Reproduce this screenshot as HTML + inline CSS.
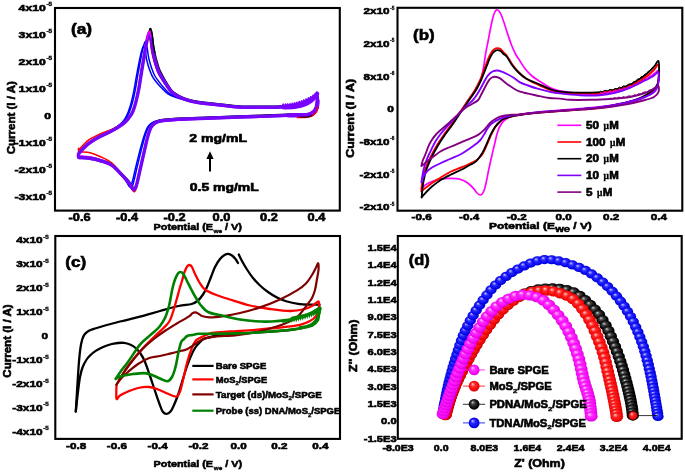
<!DOCTYPE html>
<html><head><meta charset="utf-8"><style>
html,body{margin:0;padding:0;background:#fff;}
body{width:685px;height:472px;overflow:hidden;}
svg{display:block;filter:blur(0.3px);font-family:"Liberation Sans",sans-serif;font-weight:bold;}
text{stroke:#000;}
</style></head><body>
<svg width="685" height="472" viewBox="0 0 685 472">
<defs>

<radialGradient id="gB" cx="0.5" cy="0.5" r="0.55" fx="0.35" fy="0.3"><stop offset="0" stop-color="#c8c8ff"/><stop offset="0.35" stop-color="#2a2aff"/><stop offset="0.85" stop-color="#0000e8"/><stop offset="1" stop-color="#00008a"/></radialGradient>
<radialGradient id="gM" cx="0.5" cy="0.5" r="0.55" fx="0.35" fy="0.3"><stop offset="0" stop-color="#ffd0ff"/><stop offset="0.35" stop-color="#ff30ff"/><stop offset="0.85" stop-color="#f000f0"/><stop offset="1" stop-color="#a000a0"/></radialGradient>
<radialGradient id="gR" cx="0.5" cy="0.5" r="0.55" fx="0.35" fy="0.3"><stop offset="0" stop-color="#ffd0d0"/><stop offset="0.35" stop-color="#ff2a2a"/><stop offset="0.85" stop-color="#f00000"/><stop offset="1" stop-color="#a00000"/></radialGradient>
<radialGradient id="gK" cx="0.5" cy="0.5" r="0.55" fx="0.35" fy="0.3"><stop offset="0" stop-color="#d0d0d0"/><stop offset="0.3" stop-color="#404040"/><stop offset="0.8" stop-color="#000"/><stop offset="1" stop-color="#000"/></radialGradient>

</defs>
<rect width="685" height="472" fill="#fff"/>
<path d="M78.6 153.8C79.5 152.8 82.27 149.55 84 147.8C85.73 146.05 86.57 145.07 89 143.3C91.43 141.53 94.83 139.33 98.57 137.19C102.32 135.05 107.69 132.8 111.46 130.48C115.23 128.16 118.84 125.39 121.19 123.27C123.54 121.14 124.38 119.65 125.56 117.75C126.74 115.85 127.35 114.38 128.29 111.88C129.22 109.38 130.28 106.16 131.19 102.75C132.1 99.34 132.88 95.84 133.75 91.43C134.62 87.03 135.53 81.06 136.39 76.32C137.26 71.58 138.17 66.9 138.96 62.98C139.75 59.07 140.5 55.42 141.14 52.8C141.78 50.18 142.36 48.31 142.8 47.29C143.25 46.27 143.38 46 143.8 46.66C144.22 47.32 144.86 49.16 145.32 51.24C145.78 53.33 146.09 56.8 146.56 59.16C147.03 61.52 147.52 63.35 148.14 65.42C148.77 67.5 149.48 69.56 150.3 71.6C151.12 73.65 151.99 75.91 153.06 77.71C154.12 79.51 155.25 80.69 156.69 82.41C158.13 84.13 159.82 86.12 161.7 88.03C163.58 89.94 165.66 92.33 167.97 93.87C170.27 95.4 172.39 96.14 175.51 97.23C178.63 98.32 183.15 99.61 186.69 100.42C190.23 101.24 193.4 101.67 196.76 102.12C200.11 102.58 202.96 102.77 206.82 103.17C210.69 103.56 214.61 103.95 219.97 104.51C225.33 105.07 232.33 106.12 239 106.5C245.67 106.88 253.17 106.8 260 106.8C266.83 106.8 274.17 106.78 280 106.5C285.83 106.22 290.83 105.83 295 105.1C299.17 104.37 302.17 103.23 305 102.1C307.83 100.97 310.08 99.68 312 98.3C313.92 96.92 315.57 93.47 316.5 93.8C317.43 94.13 317.48 98.05 317.6 100.3C317.72 102.55 317.8 105.25 317.2 107.3C316.6 109.35 315.53 111.35 314 112.6C312.47 113.85 310.67 114.52 308 114.8C305.33 115.08 302.67 114.25 298 114.3C293.33 114.35 286.33 114.83 280 115.1C273.67 115.37 266.83 115.67 260 115.9C253.17 116.13 247.83 116.2 239 116.5C230.17 116.8 217.18 117.32 207 117.7C196.82 118.08 185.06 118.45 177.94 118.8C170.82 119.14 167.7 119.45 164.27 119.78C160.84 120.1 159.42 120.21 157.36 120.74C155.29 121.27 153.48 121.91 151.89 122.96C150.29 124 149.1 124.89 147.81 127.01C146.51 129.14 145.26 132.49 144.14 135.7C143.01 138.91 142.12 142.44 141.06 146.28C140.01 150.13 138.79 154.92 137.81 158.76C136.83 162.6 135.96 166.13 135.2 169.34C134.44 172.55 133.85 175.57 133.25 178.05C132.65 180.52 132.1 182.76 131.6 184.2C131.09 185.65 130.68 186.47 130.2 186.72C129.72 186.98 129.48 186.8 128.7 185.72C127.93 184.63 126.98 182.22 125.56 180.21C124.13 178.2 122.49 176.2 120.16 173.64C117.83 171.08 114.92 167.07 111.56 164.87C108.19 162.67 103.56 161.56 99.96 160.46C96.37 159.37 92.99 158.78 90 158.3C87 157.82 83.9 157.77 82 157.6C80.1 157.43 79.17 157.93 78.6 157.3C78.03 156.67 78.6 154.38 78.6 153.8" fill="none" stroke="#0000ff" stroke-width="1.5" stroke-linejoin="round" stroke-linecap="round"/>
<path d="M78.6 153.7C79.5 152.7 82.27 149.45 84 147.7C85.73 145.95 86.57 144.97 89 143.2C91.43 141.43 94.82 139.22 98.58 137.09C102.34 134.96 107.72 132.71 111.57 130.4C115.42 128.09 119.22 125.34 121.69 123.22C124.16 121.1 125.08 119.61 126.38 117.68C127.69 115.75 128.49 114.24 129.52 111.64C130.55 109.03 131.62 105.64 132.58 102.04C133.54 98.44 134.35 94.73 135.25 90.05C136.16 85.37 137.1 79.02 137.99 73.96C138.88 68.91 139.81 63.9 140.62 59.71C141.42 55.52 142.18 51.62 142.83 48.83C143.48 46.03 144.06 44.04 144.5 42.94C144.95 41.85 145.08 41.57 145.5 42.27C145.92 42.97 146.56 44.94 147.02 47.16C147.48 49.38 147.78 53.07 148.25 55.6C148.71 58.12 149.19 60.07 149.81 62.29C150.42 64.52 151.12 66.73 151.92 68.93C152.72 71.13 153.58 73.56 154.61 75.51C155.65 77.46 156.74 78.76 158.13 80.63C159.52 82.51 161.15 84.68 162.95 86.75C164.76 88.82 166.76 91.39 168.97 93.05C171.18 94.71 173.21 95.54 176.22 96.72C179.23 97.91 183.59 99.29 187.04 100.17C190.48 101.04 193.59 101.49 196.9 101.97C200.21 102.45 203.02 102.64 206.87 103.05C210.72 103.46 214.62 103.85 219.98 104.41C225.33 104.97 232.33 106.02 239 106.4C245.67 106.78 253.17 106.7 260 106.7C266.83 106.7 274.17 106.68 280 106.4C285.83 106.12 290.83 105.73 295 105C299.17 104.27 302.17 103.13 305 102C307.83 100.87 310.08 99.58 312 98.2C313.92 96.82 315.57 93.37 316.5 93.7C317.43 94.03 317.48 97.95 317.6 100.2C317.72 102.45 317.8 105.15 317.2 107.2C316.6 109.25 315.53 111.25 314 112.5C312.47 113.75 310.67 114.42 308 114.7C305.33 114.98 302.67 114.15 298 114.2C293.33 114.25 286.33 114.73 280 115C273.67 115.27 266.83 115.57 260 115.8C253.17 116.03 247.83 116.1 239 116.4C230.17 116.7 217.17 117.22 207 117.6C196.83 117.98 185.05 118.35 177.96 118.7C170.86 119.05 167.82 119.36 164.45 119.69C161.08 120.01 159.74 120.13 157.75 120.66C155.76 121.2 154.04 121.86 152.51 122.92C150.99 123.98 149.85 124.88 148.62 127.04C147.39 129.19 146.19 132.6 145.11 135.86C144.03 139.12 143.17 142.71 142.15 146.62C141.13 150.53 139.94 155.41 138.98 159.32C138.03 163.23 137.16 166.81 136.4 170.08C135.64 173.35 135.05 176.4 134.44 178.91C133.83 181.42 133.27 183.68 132.75 185.13C132.23 186.58 131.81 187.41 131.3 187.64C130.8 187.88 130.55 187.69 129.73 186.55C128.91 185.41 127.91 182.91 126.38 180.8C124.86 178.68 123.06 176.53 120.6 173.87C118.15 171.21 115.1 167.09 111.66 164.84C108.22 162.59 103.58 161.47 99.97 160.37C96.36 159.26 92.99 158.68 90 158.2C87 157.72 83.9 157.67 82 157.5C80.1 157.33 79.17 157.83 78.6 157.2C78.03 156.57 78.6 154.28 78.6 153.7" fill="none" stroke="#0000ff" stroke-width="1.5" stroke-linejoin="round" stroke-linecap="round"/>
<path d="M78.6 152.7C79.5 151.7 82.27 148.45 84 146.7C85.73 144.95 86.57 143.95 89 142.2C91.43 140.45 94.78 138.28 98.6 136.2C102.42 134.12 107.78 131.95 111.9 129.7C116.02 127.45 120.45 124.78 123.3 122.7C126.15 120.62 127.35 119.2 129 117.2C130.65 115.2 131.9 113.62 133.19 110.7C134.49 107.78 135.65 103.87 136.75 99.7C137.86 95.53 138.79 91.2 139.8 85.7C140.82 80.2 141.87 72.7 142.85 66.7C143.83 60.7 144.82 54.7 145.68 49.7C146.54 44.7 147.32 40.03 147.99 36.7C148.66 33.37 149.25 31 149.7 29.7C150.15 28.4 150.28 28.07 150.7 28.9C151.12 29.73 151.75 32.07 152.2 34.7C152.65 37.33 152.94 41.7 153.39 44.7C153.84 47.7 154.3 50.03 154.88 52.7C155.46 55.37 156.12 58.03 156.86 60.7C157.6 63.37 158.39 66.3 159.33 68.7C160.26 71.1 161.25 72.77 162.48 75.1C163.71 77.43 165.13 80.15 166.7 82.7C168.28 85.25 170 88.35 171.92 90.4C173.85 92.45 175.57 93.53 178.25 95C180.94 96.47 184.84 98.15 188.01 99.2C191.19 100.25 194.14 100.75 197.3 101.3C200.47 101.85 203.22 102.07 207 102.5C210.78 102.93 214.67 103.33 220 103.9C225.33 104.47 232.33 105.52 239 105.9C245.67 106.28 253.17 106.2 260 106.2C266.83 106.2 274.17 106.18 280 105.9C285.83 105.62 290.83 105.23 295 104.5C299.17 103.77 302.17 102.63 305 101.5C307.83 100.37 310.08 99.08 312 97.7C313.92 96.32 315.57 92.87 316.5 93.2C317.43 93.53 317.48 97.45 317.6 99.7C317.72 101.95 317.8 104.65 317.2 106.7C316.6 108.75 315.53 110.75 314 112C312.47 113.25 310.67 113.92 308 114.2C305.33 114.48 302.67 113.65 298 113.7C293.33 113.75 286.33 114.23 280 114.5C273.67 114.77 266.83 115.07 260 115.3C253.17 115.53 247.83 115.6 239 115.9C230.17 116.2 217.17 116.72 207 117.1C196.83 117.48 185 117.85 178 118.2C171 118.55 168.17 118.87 165 119.2C161.83 119.53 160.75 119.65 159 120.2C157.25 120.75 155.8 121.42 154.5 122.5C153.2 123.58 152.25 124.5 151.2 126.7C150.15 128.9 149.13 132.37 148.2 135.7C147.27 139.03 146.52 142.7 145.6 146.7C144.68 150.7 143.6 155.7 142.7 159.7C141.8 163.7 140.95 167.37 140.2 170.7C139.45 174.03 138.83 177.15 138.2 179.7C137.57 182.25 136.97 184.53 136.4 186C135.83 187.47 135.37 188.28 134.8 188.5C134.23 188.72 133.97 188.52 133 187.3C132.03 186.08 130.83 183.47 129 181.2C127.17 178.93 124.83 176.53 122 173.7C119.17 170.87 115.67 166.57 112 164.2C108.33 161.83 103.67 160.67 100 159.5C96.33 158.33 93 157.7 90 157.2C87 156.7 83.9 156.67 82 156.5C80.1 156.33 79.17 156.83 78.6 156.2C78.03 155.57 78.6 153.28 78.6 152.7" fill="none" stroke="#000000" stroke-width="1.4" stroke-linejoin="round" stroke-linecap="round"/>
<path d="M78.6 152.3C79.5 151.3 82.27 148.05 84 146.3C85.73 144.55 86.57 143.51 89 141.8C91.43 140.09 94.79 138.01 98.6 136.01C102.4 134.02 107.77 131.99 111.83 129.85C115.89 127.7 120.19 125.14 122.96 123.13C125.73 121.12 126.84 119.74 128.45 117.78C130.06 115.81 131.35 114.22 132.61 111.35C133.87 108.48 134.95 104.62 135.99 100.54C137.04 96.45 137.92 92.22 138.89 86.85C139.86 81.48 140.86 74.18 141.8 68.34C142.75 62.51 143.71 56.69 144.54 51.84C145.38 46.98 146.15 42.46 146.81 39.22C147.47 35.99 148.05 33.69 148.5 32.42C148.95 31.16 149.08 30.83 149.5 31.64C149.92 32.45 150.55 34.72 151.01 37.28C151.46 39.84 151.76 44.1 152.22 47.01C152.67 49.93 153.15 52.19 153.74 54.77C154.33 57.36 155.01 59.94 155.78 62.51C156.55 65.09 157.37 67.93 158.35 70.24C159.32 72.55 160.36 74.14 161.65 76.38C162.94 78.63 164.44 81.24 166.09 83.71C167.75 86.17 169.56 89.19 171.56 91.19C173.56 93.18 175.35 94.23 178.09 95.67C180.83 97.11 184.78 98.77 187.98 99.81C191.18 100.85 194.13 101.35 197.3 101.9C200.47 102.45 203.22 102.67 207 103.1C210.78 103.53 214.67 103.93 220 104.5C225.33 105.07 232.33 106.12 239 106.5C245.67 106.88 253.17 106.8 260 106.8C266.83 106.8 274.17 106.78 280 106.5C285.83 106.22 290.83 105.83 295 105.1C299.17 104.37 302.17 103.23 305 102.1C307.83 100.97 310.08 99.68 312 98.3C313.92 96.92 315.57 93.47 316.5 93.8C317.43 94.13 317.48 98.05 317.6 100.3C317.72 102.55 317.8 105.25 317.2 107.3C316.6 109.35 315.53 111.35 314 112.6C312.47 113.85 310.67 114.52 308 114.8C305.33 115.08 302.67 114.25 298 114.3C293.33 114.35 286.33 114.83 280 115.1C273.67 115.37 266.83 115.67 260 115.9C253.17 116.13 247.83 116.2 239 116.5C230.17 116.8 217.17 117.32 207 117.7C196.83 118.08 185.01 118.45 177.99 118.8C170.97 119.15 168.09 119.47 164.88 119.8C161.67 120.13 160.54 120.25 158.74 120.8C156.94 121.35 155.43 122.02 154.08 123.1C152.74 124.18 151.75 125.1 150.66 127.3C149.57 129.5 148.51 132.97 147.55 136.3C146.59 139.63 145.81 143.3 144.87 147.3C143.94 151.3 142.83 156.3 141.92 160.3C141.01 164.3 140.15 167.97 139.4 171.3C138.65 174.63 138.04 177.75 137.41 180.3C136.78 182.85 136.19 185.13 135.63 186.6C135.07 188.07 134.62 188.88 134.06 189.1C133.51 189.32 133.25 189.12 132.31 187.9C131.38 186.68 130.22 184.08 128.45 181.78C126.68 179.47 124.46 177 121.71 174.1C118.95 171.2 115.55 166.81 111.93 164.35C108.31 161.89 103.65 160.61 99.99 159.35C96.34 158.09 93 157.34 90 156.8C87 156.26 83.9 156.27 82 156.1C80.1 155.93 79.17 156.43 78.6 155.8C78.03 155.17 78.6 152.88 78.6 152.3" fill="none" stroke="#ff00ff" stroke-width="1.4" stroke-linejoin="round" stroke-linecap="round"/>
<path d="M78.6 150.2C79.5 149.2 82.27 145.95 84 144.2C85.73 142.45 86.57 141.31 89 139.7C91.43 138.09 94.79 136.28 98.6 134.56C102.41 132.85 107.77 131.25 111.86 129.42C115.94 127.6 120.29 125.41 123.09 123.61C125.89 121.82 127.13 120.53 128.66 118.64C130.18 116.76 131.08 115.13 132.22 112.31C133.36 109.49 134.48 105.71 135.49 101.72C136.5 97.74 137.35 93.62 138.29 88.41C139.22 83.21 140.19 76.13 141.11 70.49C142.03 64.86 142.97 59.26 143.79 54.58C144.6 49.91 145.37 45.55 146.02 42.43C146.68 39.31 147.26 37.09 147.7 35.87C148.15 34.65 148.28 34.34 148.7 35.12C149.12 35.9 149.76 38.09 150.21 40.56C150.67 43.04 150.97 47.15 151.44 49.96C151.9 52.78 152.37 54.96 152.98 57.44C153.58 59.93 154.27 62.4 155.06 64.87C155.85 67.34 156.69 70.06 157.69 72.27C158.7 74.47 159.76 75.96 161.1 78.1C162.43 80.24 163.99 82.72 165.69 85.09C167.39 87.46 169.26 90.38 171.31 92.31C173.36 94.23 175.21 95.25 177.98 96.65C180.75 98.05 184.74 99.7 187.96 100.72C191.18 101.75 194.12 102.26 197.29 102.8C200.47 103.35 203.22 103.57 207 104C210.78 104.43 214.67 104.83 220 105.4C225.33 105.97 232.33 107.02 239 107.4C245.67 107.78 253.17 107.7 260 107.7C266.83 107.7 274.17 107.68 280 107.4C285.83 107.12 290.83 106.73 295 106C299.17 105.27 302.17 104.13 305 103C307.83 101.87 310.08 100.58 312 99.2C313.92 97.82 315.57 94.37 316.5 94.7C317.43 95.03 317.48 98.95 317.6 101.2C317.72 103.45 317.8 106.15 317.2 108.2C316.6 110.25 315.53 112.25 314 113.5C312.47 114.75 310.67 115.42 308 115.7C305.33 115.98 302.67 115.15 298 115.2C293.33 115.25 286.33 115.73 280 116C273.67 116.27 266.83 116.57 260 116.8C253.17 117.03 247.83 117.1 239 117.4C230.17 117.7 217.17 118.22 207 118.6C196.83 118.98 185.01 119.35 177.99 119.7C170.98 120.05 168.12 120.38 164.93 120.72C161.73 121.06 160.62 121.18 158.84 121.75C157.05 122.31 155.57 122.99 154.24 124.1C152.91 125.21 151.93 126.15 150.86 128.4C149.79 130.66 148.75 134.21 147.79 137.63C146.84 141.05 146.08 144.81 145.15 148.93C144.22 153.04 143.12 158.19 142.21 162.3C141.3 166.41 140.45 170.18 139.7 173.6C138.95 177.02 138.34 180.21 137.7 182.81C137.07 185.41 136.48 187.73 135.92 189.21C135.36 190.69 134.9 191.51 134.34 191.7C133.78 191.89 133.52 191.69 132.57 190.36C131.62 189.03 130.45 186.33 128.66 183.69C126.86 181.06 124.6 177.97 121.82 174.54C119.03 171.11 115.59 166.12 111.96 163.11C108.32 160.1 103.66 158.24 100 156.51C96.34 154.77 93 153.45 90 152.7C87 151.95 83.9 152.17 82 152C80.1 151.83 79.17 152.33 78.6 151.7C78.03 151.07 78.6 148.78 78.6 148.2" fill="none" stroke="#ff0000" stroke-width="1.5" stroke-linejoin="round" stroke-linecap="round"/>
<path d="M78.6 153.8C79.5 152.8 82.27 149.55 84 147.8C85.73 146.05 86.57 145.05 89 143.3C91.43 141.55 94.79 139.38 98.6 137.3C102.4 135.22 107.77 133.05 111.85 130.8C115.92 128.55 120.26 125.88 123.05 123.8C125.84 121.72 126.98 120.29 128.59 118.3C130.2 116.31 131.45 114.73 132.71 111.87C133.96 109.01 135.06 105.18 136.12 101.13C137.18 97.08 138.07 92.88 139.04 87.57C140.02 82.26 141.03 75.03 141.98 69.26C142.93 63.49 143.89 57.75 144.73 52.95C145.57 48.16 146.35 43.69 147.01 40.49C147.67 37.29 148.25 35.02 148.7 33.77C149.15 32.52 149.28 32.2 149.7 33C150.12 33.8 150.75 36.05 151.2 38.58C151.66 41.11 151.96 45.31 152.41 48.2C152.87 51.08 153.34 53.31 153.93 55.86C154.52 58.41 155.2 60.96 155.96 63.5C156.72 66.04 157.54 68.84 158.51 71.11C159.48 73.39 160.51 74.95 161.79 77.16C163.07 79.36 164.56 81.93 166.2 84.37C167.83 86.8 169.63 89.79 171.62 91.76C173.6 93.73 175.39 94.77 178.12 96.19C180.85 97.62 184.79 99.28 187.98 100.31C191.18 101.35 194.13 101.85 197.3 102.4C200.47 102.95 203.22 103.17 207 103.6C210.78 104.03 214.67 104.43 220 105C225.33 105.57 232.33 106.62 239 107C245.67 107.38 253.17 107.3 260 107.3C266.83 107.3 274.17 107.28 280 107C285.83 106.72 290.83 106.33 295 105.6C299.17 104.87 302.17 103.73 305 102.6C307.83 101.47 310.08 100.18 312 98.8C313.92 97.42 315.57 93.97 316.5 94.3C317.43 94.63 317.48 98.55 317.6 100.8C317.72 103.05 317.8 105.75 317.2 107.8C316.6 109.85 315.53 111.85 314 113.1C312.47 114.35 310.67 115.02 308 115.3C305.33 115.58 302.67 114.75 298 114.8C293.33 114.85 286.33 115.33 280 115.6C273.67 115.87 266.83 116.17 260 116.4C253.17 116.63 247.83 116.7 239 117C230.17 117.3 217.17 117.82 207 118.2C196.83 118.58 185.01 118.95 177.99 119.3C170.98 119.65 168.11 119.97 164.91 120.3C161.71 120.63 160.59 120.75 158.8 121.3C157.02 121.85 155.52 122.52 154.19 123.6C152.85 124.68 151.87 125.6 150.79 127.8C149.71 130 148.67 133.47 147.71 136.8C146.76 140.13 145.99 143.8 145.06 147.8C144.12 151.8 143.02 156.8 142.11 160.8C141.2 164.8 140.35 168.47 139.6 171.8C138.85 175.13 138.24 178.25 137.61 180.8C136.98 183.35 136.38 185.63 135.82 187.1C135.26 188.57 134.8 189.38 134.25 189.6C133.69 189.82 133.43 189.62 132.48 188.4C131.54 187.18 130.37 184.57 128.59 182.3C126.8 180.03 124.55 177.63 121.78 174.8C119.01 171.97 115.58 167.67 111.95 165.3C108.32 162.93 103.65 161.77 100 160.6C96.34 159.43 93 158.8 90 158.3C87 157.8 83.9 157.77 82 157.6C80.1 157.43 79.17 157.93 78.6 157.3C78.03 156.67 78.6 154.38 78.6 153.8" fill="none" stroke="#6a10f0" stroke-width="3.4" stroke-linejoin="round" stroke-linecap="round"/>
<path d="M78.6 154.4C79.5 153.4 82.27 150.15 84 148.4C85.73 146.65 86.57 145.65 89 143.9C91.43 142.15 94.79 139.98 98.6 137.9C102.4 135.82 107.77 133.65 111.82 131.4C115.88 129.15 120.16 126.48 122.92 124.4C125.68 122.32 126.77 120.88 128.38 118.9C129.99 116.92 131.3 115.33 132.56 112.5C133.82 109.66 134.89 105.87 135.93 101.88C136.97 97.88 137.85 93.73 138.82 88.5C139.78 83.27 140.78 76.16 141.72 70.49C142.66 64.81 143.62 59.18 144.45 54.48C145.28 49.77 146.05 45.38 146.71 42.24C147.37 39.11 147.95 36.87 148.4 35.64C148.85 34.42 148.98 34.1 149.4 34.89C149.82 35.68 150.45 37.88 150.91 40.37C151.36 42.86 151.66 46.99 152.12 49.82C152.58 52.65 153.05 54.85 153.64 57.35C154.24 59.85 154.92 62.34 155.69 64.83C156.46 67.32 157.28 70.06 158.26 72.28C159.25 74.5 160.28 76.01 161.58 78.16C162.88 80.32 164.39 82.83 166.04 85.21C167.7 87.59 169.52 90.53 171.53 92.47C173.53 94.41 175.34 95.43 178.08 96.83C180.82 98.24 184.77 99.89 187.98 100.92C191.18 101.95 194.13 102.46 197.3 103C200.47 103.55 203.22 103.77 207 104.2C210.78 104.63 214.67 105.03 220 105.6C225.33 106.17 232.33 107.22 239 107.6C245.67 107.98 253.17 107.9 260 107.9C266.83 107.9 274.17 107.88 280 107.6C285.83 107.32 290.83 106.93 295 106.2C299.17 105.47 302.17 104.33 305 103.2C307.83 102.07 310.08 100.78 312 99.4C313.92 98.02 315.57 94.57 316.5 94.9C317.43 95.23 317.48 99.15 317.6 101.4C317.72 103.65 317.8 106.35 317.2 108.4C316.6 110.45 315.53 112.45 314 113.7C312.47 114.95 310.67 115.62 308 115.9C305.33 116.18 302.67 115.35 298 115.4C293.33 115.45 286.33 115.93 280 116.2C273.67 116.47 266.83 116.77 260 117C253.17 117.23 247.83 117.3 239 117.6C230.17 117.9 217.17 118.42 207 118.8C196.83 119.18 185.01 119.55 177.99 119.9C170.97 120.25 168.08 120.57 164.87 120.9C161.66 121.23 160.51 121.35 158.7 121.9C156.9 122.45 155.38 123.12 154.03 124.2C152.68 125.28 151.68 126.2 150.59 128.4C149.5 130.6 148.44 134.07 147.47 137.4C146.5 140.73 145.72 144.4 144.78 148.4C143.84 152.4 142.73 157.4 141.82 161.4C140.91 165.4 140.05 169.07 139.3 172.4C138.55 175.73 137.94 178.85 137.31 181.4C136.68 183.95 136.09 186.23 135.54 187.7C134.98 189.17 134.52 189.98 133.97 190.2C133.42 190.42 133.16 190.22 132.23 189C131.29 187.78 130.14 185.17 128.38 182.9C126.62 180.63 124.41 178.23 121.67 175.4C118.93 172.57 115.53 168.27 111.92 165.9C108.31 163.53 103.65 162.37 99.99 161.2C96.34 160.03 93 159.4 90 158.9C87 158.4 83.9 158.37 82 158.2C80.1 158.03 79.17 158.53 78.6 157.9C78.03 157.27 78.6 154.98 78.6 154.4" fill="none" stroke="#7a00ff" stroke-width="2" stroke-linejoin="round" stroke-linecap="round"/>
<path d="M149.7 29.7C149.87 29.57 150.28 28.07 150.7 28.9C151.12 29.73 151.75 32.07 152.2 34.7C152.65 37.33 152.94 41.7 153.39 44.7C153.84 47.7 154.63 51.37 154.88 52.7" fill="none" stroke="#000000" stroke-width="1.4" stroke-linejoin="round" stroke-linecap="round"/>
<path d="M146.81 39.22C147.09 38.09 148.05 33.69 148.5 32.42C148.95 31.16 149.08 30.83 149.5 31.64C149.92 32.45 150.76 36.34 151.01 37.28" fill="none" stroke="#ff00ff" stroke-width="1.3" stroke-linejoin="round" stroke-linecap="round"/>
<polyline points="282,106.6 283.1,103.9 284.3,106.55 285.4,103.85 286.6,106.4 287.7,103.7 288.9,106.14 290,103.44 291.2,105.78 292.3,103.08 293.5,105.32 294.6,102.62 295.8,104.76 296.9,102.06 298.1,104.1 299.2,101.4 300.4,103.33 301.5,100.63 302.7,102.46 303.8,99.76 305,101.49 306.1,98.79 307.3,100.42 308.4,97.72 309.6,99.24 310.7,96.54 311.9,97.96 313,95.26 314.2,96.58 315.3,93.88" fill="none" stroke="#7a00ff" stroke-width="1.3" stroke-linejoin="round"/>
<path d="M284 107.5C286 107.35 292.5 107.13 296 106.6C299.5 106.07 302.42 105.32 305 104.3C307.58 103.28 309.75 101.8 311.5 100.5C313.25 99.2 314.55 97.67 315.5 96.5C316.45 95.33 316.92 94 317.2 93.5" fill="none" stroke="#7a00ff" stroke-width="4.2" stroke-linejoin="round" stroke-linecap="round"/>
<path d="M288 115.5C290 115.45 296.67 115.32 300 115.2C303.33 115.08 305.75 115.3 308 114.8C310.25 114.3 312.08 113.42 313.5 112.2C314.92 110.98 315.83 109.37 316.5 107.5C317.17 105.63 317.33 102.08 317.5 101" fill="none" stroke="#7a00ff" stroke-width="4.2" stroke-linejoin="round" stroke-linecap="round"/>
<path d="M297 117.6C298.33 117.6 302.67 117.8 305 117.6C307.33 117.4 309.25 117.17 311 116.4C312.75 115.63 314.33 114.57 315.5 113C316.67 111.43 317.58 108 318 107" fill="none" stroke="#ff0000" stroke-width="1.3" stroke-linejoin="round" stroke-linecap="round"/>
<path d="M300 117C301.17 117 305 117.23 307 117C309 116.77 311.17 115.83 312 115.6" fill="none" stroke="#000000" stroke-width="1" stroke-linejoin="round" stroke-linecap="round"/>
<rect x="55" y="8" width="284.8" height="202.6" fill="none" stroke="#000" stroke-width="2.1"/>
<text x="70.9" y="34.3" font-size="15.2" textLength="21.2" lengthAdjust="spacingAndGlyphs" fill="#000" stroke-width="0.6">(a)</text>
<text x="46.42" y="6.06" font-size="5.56" textLength="5.78" lengthAdjust="spacingAndGlyphs" fill="#000" stroke-width="0.33">-5</text>
<text x="18.6" y="10.89" font-size="9.84" textLength="27.22" lengthAdjust="spacingAndGlyphs" fill="#000" stroke-width="0.59">4x10</text>
<text x="46.42" y="33.06" font-size="5.56" textLength="5.78" lengthAdjust="spacingAndGlyphs" fill="#000" stroke-width="0.33">-5</text>
<text x="18.6" y="37.89" font-size="9.84" textLength="27.22" lengthAdjust="spacingAndGlyphs" fill="#000" stroke-width="0.59">3x10</text>
<text x="46.42" y="60.06" font-size="5.56" textLength="5.78" lengthAdjust="spacingAndGlyphs" fill="#000" stroke-width="0.33">-5</text>
<text x="18.6" y="64.89" font-size="9.84" textLength="27.22" lengthAdjust="spacingAndGlyphs" fill="#000" stroke-width="0.59">2x10</text>
<text x="46.42" y="87.06" font-size="5.56" textLength="5.78" lengthAdjust="spacingAndGlyphs" fill="#000" stroke-width="0.33">-5</text>
<text x="18.6" y="91.89" font-size="9.84" textLength="27.22" lengthAdjust="spacingAndGlyphs" fill="#000" stroke-width="0.59">1x10</text>
<text x="46.42" y="141.06" font-size="5.56" textLength="5.78" lengthAdjust="spacingAndGlyphs" fill="#000" stroke-width="0.33">-5</text>
<text x="14.53" y="145.89" font-size="9.84" textLength="31.3" lengthAdjust="spacingAndGlyphs" fill="#000" stroke-width="0.59">-1x10</text>
<text x="46.42" y="168.06" font-size="5.56" textLength="5.78" lengthAdjust="spacingAndGlyphs" fill="#000" stroke-width="0.33">-5</text>
<text x="14.53" y="172.89" font-size="9.84" textLength="31.3" lengthAdjust="spacingAndGlyphs" fill="#000" stroke-width="0.59">-2x10</text>
<text x="46.42" y="195.06" font-size="5.56" textLength="5.78" lengthAdjust="spacingAndGlyphs" fill="#000" stroke-width="0.33">-5</text>
<text x="14.53" y="199.89" font-size="9.84" textLength="31.3" lengthAdjust="spacingAndGlyphs" fill="#000" stroke-width="0.59">-3x10</text>
<text x="44.19" y="118.89" font-size="9.84" textLength="6.81" lengthAdjust="spacingAndGlyphs" fill="#000" stroke-width="0.59">0</text>
<text x="68.6" y="220.9" font-size="10.3" textLength="22" lengthAdjust="spacingAndGlyphs" fill="#000" stroke-width="0.6">-0.6</text>
<text x="116.1" y="220.9" font-size="10.3" textLength="22" lengthAdjust="spacingAndGlyphs" fill="#000" stroke-width="0.6">-0.4</text>
<text x="163.6" y="220.9" font-size="10.3" textLength="22" lengthAdjust="spacingAndGlyphs" fill="#000" stroke-width="0.6">-0.2</text>
<text x="212.63" y="220.9" font-size="10.3" textLength="17.75" lengthAdjust="spacingAndGlyphs" fill="#000" stroke-width="0.6">0.0</text>
<text x="260.13" y="220.9" font-size="10.3" textLength="17.75" lengthAdjust="spacingAndGlyphs" fill="#000" stroke-width="0.6">0.2</text>
<text x="307.63" y="220.9" font-size="10.3" textLength="17.75" lengthAdjust="spacingAndGlyphs" fill="#000" stroke-width="0.6">0.4</text>
<text x="153.6" y="229.9" font-size="9.8" textLength="59.4" lengthAdjust="spacingAndGlyphs" fill="#000" stroke-width="0.59">Potential (E</text>
<text x="213.5" y="232.9" font-size="6.2" textLength="8.8" lengthAdjust="spacingAndGlyphs" fill="#000" stroke-width="0.37">we</text>
<text x="225" y="229.9" font-size="9.8" textLength="17" lengthAdjust="spacingAndGlyphs" fill="#000" stroke-width="0.59">/ V)</text>
<text transform="translate(15.3,154.2) rotate(-90)" x="0" y="0" font-size="10.6" textLength="73" lengthAdjust="spacingAndGlyphs" stroke-width="0.6">Current (I / A)</text>
<text x="189.3" y="142" font-size="10.6" textLength="57.7" lengthAdjust="spacingAndGlyphs" fill="#000" stroke-width="0.6">2 mg/mL</text>
<text x="189.8" y="191.2" font-size="10.6" textLength="69" lengthAdjust="spacingAndGlyphs" fill="#000" stroke-width="0.6">0.5 mg/mL</text>
<line x1="210" y1="171.5" x2="210" y2="157" stroke="#000" stroke-width="2"/>
<path d="M206.4 159 L210 151.2 L213.6 159 Z" fill="#000"/>
<path d="M421.4 189C421.53 187.83 421.8 184.5 422.2 182C422.6 179.5 423.17 176.5 423.8 174C424.43 171.5 424.8 169.92 426 167C427.2 164.08 429.17 160.08 431 156.5C432.83 152.92 434.92 149 437 145.5C439.08 142 441.25 138.75 443.5 135.5C445.75 132.25 448.17 129.17 450.5 126C452.83 122.83 455.42 119.5 457.5 116.5C459.58 113.5 461.25 110.67 463 108C464.75 105.33 466.42 102.83 468 100.5C469.58 98.17 471.08 96.08 472.5 94C473.92 91.92 475.25 90 476.5 88C477.75 86 479.08 84.17 480 82C480.92 79.83 481.35 77.77 482 75C482.65 72.23 483.27 69.12 483.9 65.4C484.53 61.68 485.07 56.93 485.8 52.7C486.53 48.47 487.52 44.03 488.3 40C489.08 35.97 489.75 32.17 490.5 28.5C491.25 24.83 492.08 20.75 492.8 18C493.52 15.25 494.15 13.37 494.8 12C495.45 10.63 496 9.97 496.7 9.8C497.4 9.63 498.2 10.05 499 11C499.8 11.95 500.58 13.33 501.5 15.5C502.42 17.67 503.42 20.75 504.5 24C505.58 27.25 506.83 31.5 508 35C509.17 38.5 510.25 41.83 511.5 45C512.75 48.17 514.08 51.33 515.5 54C516.92 56.67 518.37 58.5 520 61C521.63 63.5 523.3 66.5 525.3 69C527.3 71.5 529.55 73.92 532 76C534.45 78.08 537.33 79.75 540 81.5C542.67 83.25 545.5 85.17 548 86.5C550.5 87.83 552.5 88.7 555 89.5C557.5 90.3 558.83 90.62 563 91.3C567.17 91.98 573.83 93.18 580 93.6C586.17 94.02 594.17 94.15 600 93.8C605.83 93.45 610 92.55 615 91.5C620 90.45 625 89.42 630 87.5C635 85.58 641.08 82.17 645 80C648.92 77.83 651.3 76.03 653.5 74.5C655.7 72.97 657.33 69.88 658.2 70.8C659.07 71.72 658.98 77.13 658.7 80C658.42 82.87 657.95 85.67 656.5 88C655.05 90.33 653.58 92 650 94C646.42 96 641.67 98.08 635 100C628.33 101.92 619.17 104.08 610 105.5C600.83 106.92 590 107.58 580 108.5C570 109.42 559.17 110.17 550 111C540.83 111.83 530.67 112.8 525 113.5C519.33 114.2 518.53 114.63 516 115.2C513.47 115.77 511.88 115.9 509.8 116.9C507.72 117.9 505.25 119.43 503.5 121.2C501.75 122.97 500.38 125.37 499.3 127.5C498.22 129.63 497.72 131.53 497 134C496.28 136.47 495.83 138.8 495 142.3C494.17 145.8 493.05 150.42 492 155C490.95 159.58 489.62 165.47 488.7 169.8C487.78 174.13 487.22 177.72 486.5 181C485.78 184.28 485.1 187.37 484.4 189.5C483.7 191.63 483 192.88 482.3 193.8C481.6 194.72 481.08 195.13 480.2 195C479.32 194.87 478.05 194.02 477 193C475.95 191.98 475.15 190.32 473.9 188.9C472.65 187.48 470.92 185.73 469.5 184.5C468.08 183.27 466.82 182.32 465.4 181.5C463.98 180.68 462.42 180.07 461 179.6C459.58 179.13 459.07 178.9 456.9 178.7C454.73 178.5 450.82 178.28 448 178.4C445.18 178.52 442.67 178.88 440 179.4C437.33 179.92 434.33 180.65 432 181.5C429.67 182.35 427.5 183.58 426 184.5C424.5 185.42 423.77 186.25 423 187C422.23 187.75 421.67 188.67 421.4 189" fill="none" stroke="#ff00ff" stroke-width="1.7" stroke-linejoin="round" stroke-linecap="round"/>
<path d="M421.4 191C421.53 189.83 421.8 186.5 422.2 184C422.6 181.5 423.17 178.67 423.8 176C424.43 173.33 424.8 171.25 426 168C427.2 164.75 429.17 160.25 431 156.5C432.83 152.75 434.92 149 437 145.5C439.08 142 441.25 138.75 443.5 135.5C445.75 132.25 448.28 129.08 450.5 126C452.72 122.92 455.02 119.58 456.8 117C458.58 114.42 459.72 112.67 461.2 110.5C462.68 108.33 464.28 106.08 465.7 104C467.12 101.92 468.18 100.25 469.7 98C471.22 95.75 473.1 93.42 474.8 90.5C476.5 87.58 478.5 83.58 479.9 80.5C481.3 77.42 482.15 74.75 483.2 72C484.25 69.25 485.27 66.42 486.2 64C487.13 61.58 487.92 59.45 488.8 57.5C489.68 55.55 490.58 53.68 491.5 52.3C492.42 50.92 493.3 49.9 494.3 49.2C495.3 48.5 496.47 48.13 497.5 48.1C498.53 48.07 499.48 48.27 500.5 49C501.52 49.73 502.52 51.33 503.6 52.5C504.68 53.67 505.6 54.08 507 56C508.4 57.92 510.17 61.42 512 64C513.83 66.58 515.67 69.08 518 71.5C520.33 73.92 522.75 76.33 526 78.5C529.25 80.67 533.63 82.67 537.5 84.5C541.37 86.33 545.45 88.2 549.2 89.5C552.95 90.8 554.87 91.65 560 92.3C565.13 92.95 573.33 93.25 580 93.4C586.67 93.55 594.17 93.63 600 93.2C605.83 92.77 610 91.9 615 90.8C620 89.7 625 88.77 630 86.6C635 84.43 641.08 80.48 645 77.8C648.92 75.12 651.27 72.72 653.5 70.5C655.73 68.28 657.48 63.75 658.4 64.5C659.32 65.25 659.15 71.58 659 75C658.85 78.42 658.67 82.17 657.5 85C656.33 87.83 654.92 89.67 652 92C649.08 94.33 645.33 96.92 640 99C634.67 101.08 626.67 103 620 104.5C613.33 106 608.33 107.03 600 108C591.67 108.97 580 109.55 570 110.3C560 111.05 547.5 111.88 540 112.5C532.5 113.12 529.33 113.43 525 114C520.67 114.57 517.58 115.07 514 115.9C510.42 116.73 506.08 117.82 503.5 119C500.92 120.18 499.92 121.58 498.5 123C497.08 124.42 496.17 125.67 495 127.5C493.83 129.33 492.58 131.75 491.5 134C490.42 136.25 489.58 138.5 488.5 141C487.42 143.5 486.17 146.58 485 149C483.83 151.42 483 153.58 481.5 155.5C480 157.42 478.25 159 476 160.5C473.75 162 470.47 163.33 468 164.5C465.53 165.67 464.2 166.25 461.2 167.5C458.2 168.75 453.53 170.25 450 172C446.47 173.75 443 176.17 440 178C437 179.83 434.33 181.42 432 183C429.67 184.58 427.5 186.33 426 187.5C424.5 188.67 423.77 189.33 423 190C422.23 190.67 421.67 191.25 421.4 191.5" fill="none" stroke="#ff0000" stroke-width="1.9" stroke-linejoin="round" stroke-linecap="round"/>
<path d="M421.6 197.6C421.82 195.5 422.38 188.6 422.9 185C423.42 181.4 424.02 178.83 424.7 176C425.38 173.17 425.78 171.25 427 168C428.22 164.75 430.17 160.25 432 156.5C433.83 152.75 435.92 149 438 145.5C440.08 142 442.25 138.75 444.5 135.5C446.75 132.25 449.32 129.08 451.5 126C453.68 122.92 455.85 119.58 457.6 117C459.35 114.42 460.52 112.67 462 110.5C463.48 108.33 465.08 106.08 466.5 104C467.92 101.92 468.98 100.2 470.5 98C472.02 95.8 473.9 93.63 475.6 90.8C477.3 87.97 479.3 83.97 480.7 81C482.1 78.03 482.95 75.6 484 73C485.05 70.4 486.08 67.73 487 65.4C487.92 63.07 488.65 60.9 489.5 59C490.35 57.1 491.23 55.3 492.1 54C492.97 52.7 493.8 51.83 494.7 51.2C495.6 50.57 496.53 50.23 497.5 50.2C498.47 50.17 499.48 50.37 500.5 51C501.52 51.63 502.52 53 503.6 54C504.68 55 505.6 55.17 507 57C508.4 58.83 510.17 62.5 512 65C513.83 67.5 515.67 69.75 518 72C520.33 74.25 522.75 76.58 526 78.5C529.25 80.42 533.63 81.8 537.5 83.5C541.37 85.2 545.45 87.35 549.2 88.7C552.95 90.05 554.87 90.95 560 91.6C565.13 92.25 573.33 92.5 580 92.6C586.67 92.7 594.17 92.72 600 92.2C605.83 91.68 610 90.72 615 89.5C620 88.28 625 87.28 630 84.9C635 82.52 641.08 78.1 645 75.2C648.92 72.3 651.27 69.87 653.5 67.5C655.73 65.13 657.48 60.25 658.4 61C659.32 61.75 659.15 68.17 659 72C658.85 75.83 658.67 80.83 657.5 84C656.33 87.17 654.92 88.67 652 91C649.08 93.33 645.33 95.83 640 98C634.67 100.17 626.67 102.42 620 104C613.33 105.58 608.33 106.5 600 107.5C591.67 108.5 580 109.2 570 110C560 110.8 547.5 111.63 540 112.3C532.5 112.97 529.33 113.4 525 114C520.67 114.6 517.58 115.07 514 115.9C510.42 116.73 506.08 117.82 503.5 119C500.92 120.18 499.92 121.67 498.5 123C497.08 124.33 496.17 125.33 495 127C493.83 128.67 492.55 131 491.5 133C490.45 135 489.7 136.75 488.7 139C487.7 141.25 486.57 144.17 485.5 146.5C484.43 148.83 483.88 150.52 482.3 153C480.72 155.48 478.38 159.23 476 161.4C473.62 163.57 470.47 164.6 468 166C465.53 167.4 464.2 168.3 461.2 169.8C458.2 171.3 453.53 173.23 450 175C446.47 176.77 443 178.48 440 180.4C437 182.32 434.33 184.52 432 186.5C429.67 188.48 427.5 190.78 426 192.3C424.5 193.82 423.73 194.72 423 195.6C422.27 196.48 421.83 197.27 421.6 197.6" fill="none" stroke="#000000" stroke-width="1.8" stroke-linejoin="round" stroke-linecap="round"/>
<path d="M421.4 182.5C421.57 181.42 422.05 178.08 422.4 176C422.75 173.92 422.98 172.17 423.5 170C424.02 167.83 424.7 165.33 425.5 163C426.3 160.67 427.28 158.33 428.3 156C429.32 153.67 430.42 151.42 431.6 149C432.78 146.58 433.83 144.08 435.4 141.5C436.97 138.92 438.9 136.17 441 133.5C443.1 130.83 445.67 128.08 448 125.5C450.33 122.92 452.83 120.33 455 118C457.17 115.67 459.08 113.5 461 111.5C462.92 109.5 464.5 107.92 466.5 106C468.5 104.08 471.25 101.92 473 100C474.75 98.08 475.72 96.45 477 94.5C478.28 92.55 479.53 90.38 480.7 88.3C481.87 86.22 482.95 83.92 484 82C485.05 80.08 486 78.25 487 76.8C488 75.35 488.93 74.25 490 73.3C491.07 72.35 492.2 71.57 493.4 71.1C494.6 70.63 495.93 70.47 497.2 70.5C498.47 70.53 499.2 70.63 501 71.3C502.8 71.97 505.83 73.38 508 74.5C510.17 75.62 512 76.7 514 78C516 79.3 517.67 81.05 520 82.3C522.33 83.55 525.08 84.43 528 85.5C530.92 86.57 533.97 87.68 537.5 88.7C541.03 89.72 545.45 90.82 549.2 91.6C552.95 92.38 554.87 92.8 560 93.4C565.13 94 573.33 94.9 580 95.2C586.67 95.5 594.17 95.6 600 95.2C605.83 94.8 610 94.03 615 92.8C620 91.57 625 89.85 630 87.8C635 85.75 641.08 82.47 645 80.5C648.92 78.53 651.3 77.37 653.5 76C655.7 74.63 657.4 71.13 658.2 72.3C659 73.47 658.83 79.88 658.3 83C657.77 86.12 657.22 88.67 655 91C652.78 93.33 650 95 645 97C640 99 632.5 101.28 625 103C617.5 104.72 609.17 106.13 600 107.3C590.83 108.47 580 109.22 570 110C560 110.78 548.33 111.23 540 112C531.67 112.77 525.33 113.88 520 114.6C514.67 115.32 511.45 115.57 508 116.3C504.55 117.03 501.63 118.05 499.3 119C496.97 119.95 495.42 121.12 494 122C492.58 122.88 491.88 123.22 490.8 124.3C489.72 125.38 488.57 126.9 487.5 128.5C486.43 130.1 485.4 132.23 484.4 133.9C483.4 135.57 482.55 137.1 481.5 138.5C480.45 139.9 480.02 140.67 478.1 142.3C476.18 143.93 472.82 146.35 470 148.3C467.18 150.25 464.53 152.22 461.2 154C457.87 155.78 453.53 157.42 450 159C446.47 160.58 443 162.08 440 163.5C437 164.92 434.33 166 432 167.5C429.67 169 427.5 170.83 426 172.5C424.5 174.17 423.77 175.83 423 177.5C422.23 179.17 421.67 181.67 421.4 182.5" fill="none" stroke="#8000ff" stroke-width="1.9" stroke-linejoin="round" stroke-linecap="round"/>
<path d="M421.4 166C421.6 165.17 422.08 162.58 422.6 161C423.12 159.42 423.85 158.08 424.5 156.5C425.15 154.92 425.85 153.18 426.5 151.5C427.15 149.82 427.57 148.23 428.4 146.4C429.23 144.57 430.23 142.48 431.5 140.5C432.77 138.52 434.37 136.33 436 134.5C437.63 132.67 439 131.57 441.3 129.5C443.6 127.43 447.35 124.27 449.8 122.1C452.25 119.93 454.13 118.27 456 116.5C457.87 114.73 459.33 113 461 111.5C462.67 110 464.17 108.75 466 107.5C467.83 106.25 469.97 105.25 472 104C474.03 102.75 476.62 101.67 478.2 100C479.78 98.33 480.45 95.95 481.5 94C482.55 92.05 483.58 90.05 484.5 88.3C485.42 86.55 486.15 84.98 487 83.5C487.85 82.02 488.77 80.4 489.6 79.4C490.43 78.4 491.15 77.93 492 77.5C492.85 77.07 493.42 76.7 494.7 76.8C495.98 76.9 497.82 77.03 499.7 78.1C501.58 79.17 503.78 81.55 506 83.2C508.22 84.85 510.67 86.6 513 88C515.33 89.4 515.92 90.32 520 91.6C524.08 92.88 532.63 94.63 537.5 95.7C542.37 96.77 545.45 97.52 549.2 98C552.95 98.48 556.53 98.3 560 98.6C563.47 98.9 565 99.6 570 99.8C575 100 583.33 99.93 590 99.8C596.67 99.67 603.33 99.47 610 99C616.67 98.53 624.17 98 630 97C635.83 96 641.08 94.33 645 93C648.92 91.67 651.3 90.23 653.5 89C655.7 87.77 657.37 85.1 658.2 85.6C659.03 86.1 659.2 90.1 658.5 92C657.8 93.9 656.25 95.67 654 97C651.75 98.33 649.83 98.75 645 100C640.17 101.25 632.5 103.17 625 104.5C617.5 105.83 609.17 107.03 600 108C590.83 108.97 580 109.55 570 110.3C560 111.05 548.33 111.8 540 112.5C531.67 113.2 524.67 114.12 520 114.5C515.33 114.88 514.5 114.63 512 114.8C509.5 114.97 507.12 115.15 505 115.5C502.88 115.85 501.05 116.23 499.3 116.9C497.55 117.57 495.92 118.62 494.5 119.5C493.08 120.38 491.97 121.12 490.8 122.2C489.63 123.28 488.57 124.77 487.5 126C486.43 127.23 485.97 128.12 484.4 129.6C482.83 131.08 480.5 133.4 478.1 134.9C475.7 136.4 472.82 137.37 470 138.6C467.18 139.83 464.53 140.9 461.2 142.3C457.87 143.7 453.47 145.47 450 147C446.53 148.53 443.68 149.48 440.4 151.5C437.12 153.52 432.78 157.22 430.3 159.1C427.82 160.98 426.57 161.95 425.5 162.8C424.43 163.65 424.58 163.67 423.9 164.2C423.22 164.73 421.82 165.7 421.4 166" fill="none" stroke="#800080" stroke-width="1.9" stroke-linejoin="round" stroke-linecap="round"/>
<polyline points="600,91.1 602.5,91.95 605,90.2 607.5,91.05 610,89.3 612.5,90.15 615,88.4 617.14,89.04 619.29,87.09 621.43,87.73 623.57,85.77 625.71,86.41 627.86,84.46 630,83.8 631.88,83.89 633.75,81.38 635.62,81.46 637.5,78.95 639.38,79.04 641.25,76.53 643.12,76.61 645,74.1 646.7,73.86 648.4,71.02 650.1,70.78 651.8,67.94 653.5,66.4 655.13,65.53 656.77,62.07" fill="none" stroke="#000000" stroke-width="1.0" stroke-linejoin="round"/>
<polyline points="600,92.1 602.5,93 605,91.3 607.5,92.2 610,90.5 612.5,91.4 615,89.7 617.14,90.4 619.29,88.5 621.43,89.2 623.57,87.3 625.71,88 627.86,86.1 630,85.5 632.14,85.54 634.29,82.99 636.43,83.03 638.57,80.47 640.71,80.51 642.86,77.96 645,76.7 646.7,76.54 648.4,73.78 650.1,73.62 651.8,70.86 653.5,69.4 655.13,68.7 656.77,65.4" fill="none" stroke="#ff0000" stroke-width="1.0" stroke-linejoin="round"/>
<polyline points="600,92.7 602.5,93.62 605,91.93 607.5,92.85 610,91.17 612.5,92.08 615,90.4 617.14,91.13 619.29,89.26 621.43,89.99 623.57,88.11 625.71,88.84 627.86,86.97 630,86.4 632.14,86.63 634.29,84.26 636.43,84.49 638.57,82.11 640.71,82.34 642.86,79.97 645,78.9 647.12,78.83 649.25,76.15 651.38,76.08 653.5,73.4 655.85,72.85" fill="none" stroke="#ff00ff" stroke-width="1.0" stroke-linejoin="round"/>
<polyline points="600,94.1 602.5,95 605,93.3 607.5,94.2 610,92.5 612.5,93.4 615,91.7 617.14,92.29 619.29,90.27 621.43,90.86 623.57,88.84 625.71,89.43 627.86,87.41 630,86.7 632.14,86.96 634.29,84.61 636.43,84.87 638.57,82.53 640.71,82.79 642.86,80.44 645,79.4 647.12,79.58 649.25,77.15 651.38,77.33 653.5,74.9 655.85,74.35" fill="none" stroke="#8000ff" stroke-width="1.0" stroke-linejoin="round"/>
<polyline points="610,97.9 612.22,98.98 614.44,97.46 616.67,98.53 618.89,97.01 621.11,98.09 623.33,96.57 625.56,97.64 627.78,96.12 630,95.9 632.14,96.63 634.29,94.76 636.43,95.49 638.57,93.61 640.71,94.34 642.86,92.47 645,91.9 647.12,92.2 649.25,89.9 651.38,90.2 653.5,87.9 655.85,87.5" fill="none" stroke="#800080" stroke-width="1.0" stroke-linejoin="round"/>
<rect x="397.5" y="7.8" width="284.8" height="202.9" fill="none" stroke="#000" stroke-width="2.1"/>
<text x="413" y="40.3" font-size="15" textLength="21.6" lengthAdjust="spacingAndGlyphs" fill="#000" stroke-width="0.6">(b)</text>
<text x="390.08" y="9.65" font-size="5.35" textLength="4.22" lengthAdjust="spacingAndGlyphs" fill="#000" stroke-width="0.32">-5</text>
<text x="363.45" y="14.36" font-size="9.63" textLength="26.03" lengthAdjust="spacingAndGlyphs" fill="#000" stroke-width="0.58">2x10</text>
<text x="390.08" y="42.3" font-size="5.35" textLength="4.22" lengthAdjust="spacingAndGlyphs" fill="#000" stroke-width="0.32">-5</text>
<text x="363.45" y="47.01" font-size="9.63" textLength="26.03" lengthAdjust="spacingAndGlyphs" fill="#000" stroke-width="0.58">2x10</text>
<text x="390.08" y="74.95" font-size="5.35" textLength="4.22" lengthAdjust="spacingAndGlyphs" fill="#000" stroke-width="0.32">-6</text>
<text x="363.45" y="79.66" font-size="9.63" textLength="26.03" lengthAdjust="spacingAndGlyphs" fill="#000" stroke-width="0.58">8x10</text>
<text x="390.08" y="140.25" font-size="5.35" textLength="4.22" lengthAdjust="spacingAndGlyphs" fill="#000" stroke-width="0.32">-6</text>
<text x="359.55" y="144.96" font-size="9.63" textLength="29.92" lengthAdjust="spacingAndGlyphs" fill="#000" stroke-width="0.58">-8x10</text>
<text x="390.08" y="172.9" font-size="5.35" textLength="4.22" lengthAdjust="spacingAndGlyphs" fill="#000" stroke-width="0.32">-5</text>
<text x="359.55" y="177.61" font-size="9.63" textLength="29.92" lengthAdjust="spacingAndGlyphs" fill="#000" stroke-width="0.58">-2x10</text>
<text x="390.08" y="205.55" font-size="5.35" textLength="4.22" lengthAdjust="spacingAndGlyphs" fill="#000" stroke-width="0.32">-5</text>
<text x="359.55" y="210.26" font-size="9.63" textLength="29.92" lengthAdjust="spacingAndGlyphs" fill="#000" stroke-width="0.58">-2x10</text>
<text x="387.34" y="112.31" font-size="9.63" textLength="6.66" lengthAdjust="spacingAndGlyphs" fill="#000" stroke-width="0.58">0</text>
<text x="411.54" y="220.2" font-size="9.6" textLength="20.16" lengthAdjust="spacingAndGlyphs" fill="#000" stroke-width="0.58">-0.6</text>
<text x="459.1" y="220.2" font-size="9.6" textLength="20.16" lengthAdjust="spacingAndGlyphs" fill="#000" stroke-width="0.58">-0.4</text>
<text x="506.66" y="220.2" font-size="9.6" textLength="20.16" lengthAdjust="spacingAndGlyphs" fill="#000" stroke-width="0.58">-0.2</text>
<text x="555.57" y="220.2" font-size="9.6" textLength="16.26" lengthAdjust="spacingAndGlyphs" fill="#000" stroke-width="0.58">0.0</text>
<text x="603.13" y="220.2" font-size="9.6" textLength="16.26" lengthAdjust="spacingAndGlyphs" fill="#000" stroke-width="0.58">0.2</text>
<text x="650.69" y="220.2" font-size="9.6" textLength="16.26" lengthAdjust="spacingAndGlyphs" fill="#000" stroke-width="0.58">0.4</text>
<text x="489" y="229.1" font-size="9.8" textLength="65.9" lengthAdjust="spacingAndGlyphs" fill="#000" stroke-width="0.59">Potential (E</text>
<text x="555.2" y="232.2" font-size="8.2" textLength="14.9" lengthAdjust="spacingAndGlyphs" fill="#000" stroke-width="0.49">we</text>
<text x="573.3" y="229.1" font-size="9.8" textLength="18.5" lengthAdjust="spacingAndGlyphs" fill="#000" stroke-width="0.59">/ V)</text>
<text transform="translate(354,157.8) rotate(-90)" x="0" y="0" font-size="10.6" textLength="78.9" lengthAdjust="spacingAndGlyphs" stroke-width="0.6">Current (I / A)</text>
<line x1="557.4" y1="125.3" x2="581.3" y2="125.3" stroke="#ff00ff" stroke-width="1.6"/>
<text x="586" y="129" font-size="10" textLength="13" lengthAdjust="spacingAndGlyphs" fill="#000" stroke-width="0.6">50</text>
<text x="603.6" y="129" font-size="10.5" textLength="5.4" lengthAdjust="spacingAndGlyphs" stroke-width="0.35" style="font-family:'Liberation Serif',serif;font-weight:bold">μ</text>
<text x="609.3" y="129" font-size="10" textLength="9.6" lengthAdjust="spacingAndGlyphs" fill="#000" stroke-width="0.6">M</text>
<line x1="557.4" y1="142" x2="581.3" y2="142" stroke="#ff0000" stroke-width="1.6"/>
<text x="586" y="145.7" font-size="10" textLength="19.5" lengthAdjust="spacingAndGlyphs" fill="#000" stroke-width="0.6">100</text>
<text x="610.1" y="145.7" font-size="10.5" textLength="5.4" lengthAdjust="spacingAndGlyphs" stroke-width="0.35" style="font-family:'Liberation Serif',serif;font-weight:bold">μ</text>
<text x="615.8" y="145.7" font-size="10" textLength="9.6" lengthAdjust="spacingAndGlyphs" fill="#000" stroke-width="0.6">M</text>
<line x1="557.4" y1="158.7" x2="581.3" y2="158.7" stroke="#000000" stroke-width="1.6"/>
<text x="586" y="162.4" font-size="10" textLength="13" lengthAdjust="spacingAndGlyphs" fill="#000" stroke-width="0.6">20</text>
<text x="603.6" y="162.4" font-size="10.5" textLength="5.4" lengthAdjust="spacingAndGlyphs" stroke-width="0.35" style="font-family:'Liberation Serif',serif;font-weight:bold">μ</text>
<text x="609.3" y="162.4" font-size="10" textLength="9.6" lengthAdjust="spacingAndGlyphs" fill="#000" stroke-width="0.6">M</text>
<line x1="557.4" y1="175.4" x2="581.3" y2="175.4" stroke="#8000ff" stroke-width="1.6"/>
<text x="586" y="179.1" font-size="10" textLength="13" lengthAdjust="spacingAndGlyphs" fill="#000" stroke-width="0.6">10</text>
<text x="603.6" y="179.1" font-size="10.5" textLength="5.4" lengthAdjust="spacingAndGlyphs" stroke-width="0.35" style="font-family:'Liberation Serif',serif;font-weight:bold">μ</text>
<text x="609.3" y="179.1" font-size="10" textLength="9.6" lengthAdjust="spacingAndGlyphs" fill="#000" stroke-width="0.6">M</text>
<line x1="557.4" y1="192.1" x2="581.3" y2="192.1" stroke="#800080" stroke-width="1.6"/>
<text x="586" y="195.8" font-size="10" textLength="6.5" lengthAdjust="spacingAndGlyphs" fill="#000" stroke-width="0.6">5</text>
<text x="597.1" y="195.8" font-size="10.5" textLength="5.4" lengthAdjust="spacingAndGlyphs" stroke-width="0.35" style="font-family:'Liberation Serif',serif;font-weight:bold">μ</text>
<text x="602.8" y="195.8" font-size="10" textLength="9.6" lengthAdjust="spacingAndGlyphs" fill="#000" stroke-width="0.6">M</text>
<path d="M75.8 411.5C75.93 409.25 76.3 402.92 76.6 398C76.9 393.08 77.23 387.67 77.6 382C77.97 376.33 78.35 369.5 78.8 364C79.25 358.5 79.73 353.08 80.3 349C80.87 344.92 81.5 341.92 82.2 339.5C82.9 337.08 83.45 335.92 84.5 334.5C85.55 333.08 86.75 332 88.5 331C90.25 330 92.25 329.42 95 328.5C97.75 327.58 100.83 326.67 105 325.5C109.17 324.33 114.17 322.97 120 321.5C125.83 320.03 133.33 318.45 140 316.7C146.67 314.95 153.57 312.78 160 311C166.43 309.22 173.33 307.17 178.6 306C183.87 304.83 188.37 304.92 191.6 304C194.83 303.08 196.1 302.08 198 300.5C199.9 298.92 201.5 296.75 203 294.5C204.5 292.25 205.67 289.92 207 287C208.33 284.08 209.67 280.33 211 277C212.33 273.67 213.5 270 215 267C216.5 264 218.42 261 220 259C221.58 257 223.12 255.87 224.5 255C225.88 254.13 227.05 253.72 228.3 253.8C229.55 253.88 230.8 254.63 232 255.5C233.2 256.37 234.5 257.75 235.5 259C236.5 260.25 237.58 262.33 238 263" fill="none" stroke="#000000" stroke-width="2.3" stroke-linejoin="round" stroke-linecap="round"/>
<path d="M238.8 254.5C239.33 255.58 240.63 258.5 242 261C243.37 263.5 245.17 266.67 247 269.5C248.83 272.33 250.83 275.33 253 278C255.17 280.67 257.5 283.17 260 285.5C262.5 287.83 265.17 290 268 292C270.83 294 273.83 295.92 277 297.5C280.17 299.08 283.5 300.45 287 301.5C290.5 302.55 294.17 303.28 298 303.8C301.83 304.32 306.45 304.47 310 304.6C313.55 304.73 317.75 304.6 319.3 304.6" fill="none" stroke="#000000" stroke-width="2.3" stroke-linejoin="round" stroke-linecap="round"/>
<path d="M319.3 304.6C319.17 306 319.22 310.02 318.5 313C317.78 315.98 317.33 320.08 315 322.5C312.67 324.92 308.67 326.25 304.5 327.5C300.33 328.75 295.75 329.32 290 330C284.25 330.68 276.67 331.13 270 331.6C263.33 332.07 256.67 332.37 250 332.8C243.33 333.23 235.83 333.67 230 334.2C224.17 334.73 219.17 335.28 215 336C210.83 336.72 207.43 337.57 205 338.5C202.57 339.43 202.07 340.02 200.4 341.6C198.73 343.18 196.65 345.43 195 348C193.35 350.57 191.93 353.67 190.5 357C189.07 360.33 187.82 363.83 186.4 368C184.98 372.17 183.4 377.5 182 382C180.6 386.5 179.33 391.17 178 395C176.67 398.83 175.25 402.25 174 405C172.75 407.75 171.73 410.02 170.5 411.5C169.27 412.98 167.85 413.82 166.6 413.9C165.35 413.98 164.18 413.65 163 412C161.82 410.35 160.83 407.5 159.5 404C158.17 400.5 156.58 395.67 155 391C153.42 386.33 151.67 380.83 150 376C148.33 371.17 146.58 365.75 145 362C143.42 358.25 142.17 355.92 140.5 353.5C138.83 351.08 136.75 349 135 347.5C133.25 346 131.83 345.27 130 344.5C128.17 343.73 126 343.15 124 342.9C122 342.65 120.33 342.73 118 343C115.67 343.27 112.67 343.75 110 344.5C107.33 345.25 104.38 346.43 102 347.5C99.62 348.57 97.7 349.57 95.7 350.9C93.7 352.23 91.62 353.9 90 355.5C88.38 357.1 87.25 358.5 86 360.5C84.75 362.5 83.5 364.75 82.5 367.5C81.5 370.25 80.72 373.25 80 377C79.28 380.75 78.73 385.83 78.2 390C77.67 394.17 77.2 398.42 76.8 402C76.4 405.58 75.97 409.92 75.8 411.5" fill="none" stroke="#000000" stroke-width="2.3" stroke-linejoin="round" stroke-linecap="round"/>
<path d="M116.5 384.7C117.75 382.67 121.37 376.53 124 372.5C126.63 368.47 129.13 364.58 132.3 360.5C135.47 356.42 139.3 352 143 348C146.7 344 151.17 339.75 154.5 336.5C157.83 333.25 160.53 331 163 328.5C165.47 326 167.63 324.25 169.3 321.5C170.97 318.75 171.8 315.58 173 312C174.2 308.42 175.42 303.83 176.5 300C177.58 296.17 178.58 292.17 179.5 289C180.42 285.83 181.17 283.83 182 281C182.83 278.17 183.62 274.45 184.5 272C185.38 269.55 186.45 267.47 187.3 266.3C188.15 265.13 188.82 264.88 189.6 265C190.38 265.12 191.1 265.5 192 267C192.9 268.5 193.75 271.42 195 274C196.25 276.58 197.83 279.92 199.5 282.5C201.17 285.08 202.42 287.5 205 289.5C207.58 291.5 210.83 292.83 215 294.5C219.17 296.17 224.17 297.67 230 299.5C235.83 301.33 243.33 303.92 250 305.5C256.67 307.08 263.33 308.08 270 309C276.67 309.92 284.17 311 290 311C295.83 311 301.17 309.92 305 309C308.83 308.08 310.73 306.75 313 305.5C315.27 304.25 317.63 301.08 318.6 301.5C319.57 301.92 319.17 305.65 318.8 308C318.43 310.35 317.87 313.43 316.4 315.6C314.93 317.77 312.73 319.47 310 321C307.27 322.53 305 323.72 300 324.8C295 325.88 287.5 326.67 280 327.5C272.5 328.33 263.33 329.13 255 329.8C246.67 330.47 237.17 330.97 230 331.5C222.83 332.03 216.5 332.17 212 333C207.5 333.83 205.67 335.27 203 336.5C200.33 337.73 197.92 338.32 196 340.4C194.08 342.48 193 345.23 191.5 349C190 352.77 188.33 358.17 187 363C185.67 367.83 184.58 373.5 183.5 378C182.42 382.5 181.57 386.93 180.5 390C179.43 393.07 178.52 395.48 177.1 396.4C175.68 397.32 174.02 396.15 172 395.5C169.98 394.85 167.33 393.5 165 392.5C162.67 391.5 160.63 390.42 158 389.5C155.37 388.58 152.53 387.25 149.2 387C145.87 386.75 141.53 387.25 138 388C134.47 388.75 131 390.25 128 391.5C125 392.75 121.92 394.3 120 395.5C118.08 396.7 117.08 400.5 116.5 398.7C115.92 396.9 116.5 387.03 116.5 384.7" fill="none" stroke="#ff0000" stroke-width="2.3" stroke-linejoin="round" stroke-linecap="round"/>
<path d="M116.5 384.7C117.75 382.58 121.37 375.95 124 372C126.63 368.05 129.13 364.92 132.3 361C135.47 357.08 139.3 352.25 143 348.5C146.7 344.75 150.75 341.5 154.5 338.5C158.25 335.5 161.78 333 165.5 330.5C169.22 328 172.95 325.8 176.8 323.5C180.65 321.2 185.98 318.42 188.6 316.7C191.22 314.98 191.38 313.93 192.5 313.2C193.62 312.47 194.3 312.22 195.3 312.3C196.3 312.38 197.38 313.08 198.5 313.7C199.62 314.32 200.08 315.38 202 316C203.92 316.62 206.67 317.35 210 317.4C213.33 317.45 217 317.03 222 316.3C227 315.57 233.67 314.48 240 313C246.33 311.52 253.33 309.65 260 307.4C266.67 305.15 273.83 302.33 280 299.5C286.17 296.67 292.67 293.07 297 290.4C301.33 287.73 303.5 286.07 306 283.5C308.5 280.93 310.33 277.67 312 275C313.67 272.33 314.97 269.45 316 267.5C317.03 265.55 317.78 262.88 318.2 263.3C318.62 263.72 318.7 267.38 318.5 270C318.3 272.62 317.58 275.67 317 279C316.42 282.33 315.83 286.83 315 290C314.17 293.17 313 295.95 312 298C311 300.05 310.33 300.47 309 302.3C307.67 304.13 306 306.55 304 309C302 311.45 300.17 314.58 297 317C293.83 319.42 289.5 321.58 285 323.5C280.5 325.42 275 327 270 328.5C265 330 260.83 331.37 255 332.5C249.17 333.63 241.67 334.62 235 335.3C228.33 335.98 220.17 336.05 215 336.6C209.83 337.15 207.17 337.45 204 338.6C200.83 339.75 198.83 341.73 196 343.5C193.17 345.27 189.47 347.98 187 349.2C184.53 350.42 184.03 350.07 181.2 350.8C178.37 351.53 173.53 352.73 170 353.6C166.47 354.47 163.47 355.27 160 356C156.53 356.73 152.87 356.67 149.2 358C145.53 359.33 141.53 361.67 138 364C134.47 366.33 130.83 369.58 128 372C125.17 374.42 122.92 376.38 121 378.5C119.08 380.62 117.25 383.67 116.5 384.7" fill="none" stroke="#800000" stroke-width="2.2" stroke-linejoin="round" stroke-linecap="round"/>
<path d="M115.7 378.8C116.58 377.5 118.95 373.8 121 371C123.05 368.2 124.88 366.35 128 362C131.12 357.65 136.53 348.9 139.7 344.9C142.87 340.9 144.53 340.23 147 338C149.47 335.77 152.33 333.5 154.5 331.5C156.67 329.5 158.27 328.22 160 326C161.73 323.78 163.65 320.7 164.9 318.2C166.15 315.7 166.77 313.23 167.5 311C168.23 308.77 168.72 307.3 169.3 304.8C169.88 302.3 170.42 298.97 171 296C171.58 293.03 172.1 289.83 172.8 287C173.5 284.17 174.33 281.25 175.2 279C176.07 276.75 177.13 274.67 178 273.5C178.87 272.33 179.57 272 180.4 272C181.23 272 181.98 272.17 183 273.5C184.02 274.83 185.07 277.25 186.5 280C187.93 282.75 190.02 287 191.6 290C193.18 293 194.43 295.42 196 298C197.57 300.58 199 303.17 201 305.5C203 307.83 204.37 310.28 208 312C211.63 313.72 217.47 314.55 222.8 315.8C228.13 317.05 234.52 318.58 240 319.5C245.48 320.42 250.37 320.97 255.7 321.3C261.03 321.63 266.53 321.75 272 321.5C277.47 321.25 283.83 320.47 288.5 319.8C293.17 319.13 296.42 318.47 300 317.5C303.58 316.53 307.33 315 310 314C312.67 313 314.45 312.33 316 311.5C317.55 310.67 318.83 308.42 319.3 309C319.77 309.58 319.03 313.17 318.8 315C318.57 316.83 318.87 318.33 317.9 320C316.93 321.67 315.23 323.75 313 325C310.77 326.25 308.58 326.67 304.5 327.5C300.42 328.33 294.25 329.33 288.5 330C282.75 330.67 276.42 331 270 331.5C263.58 332 256.67 332.67 250 333C243.33 333.33 236.67 333.37 230 333.5C223.33 333.63 215.17 333.75 210 333.8C204.83 333.85 202 333.6 199 333.8C196 334 193.97 334.63 192 335C190.03 335.37 188.62 335.25 187.2 336C185.78 336.75 184.5 338.52 183.5 339.5C182.5 340.48 182.03 339.82 181.2 341.9C180.37 343.98 179.45 347.82 178.5 352C177.55 356.18 176.58 362.83 175.5 367C174.42 371.17 173.37 374.63 172 377C170.63 379.37 169.3 380.95 167.3 381.2C165.3 381.45 162.55 379.53 160 378.5C157.45 377.47 154.58 375.9 152 375C149.42 374.1 147.67 373.27 144.5 373.1C141.33 372.93 136.42 373.6 133 374C129.58 374.4 126.5 374.92 124 375.5C121.5 376.08 119.38 376.95 118 377.5C116.62 378.05 116.08 378.58 115.7 378.8" fill="none" stroke="#008000" stroke-width="2.6" stroke-linejoin="round" stroke-linecap="round"/>
<path d="M292 318.2C293.33 317.93 297.5 317.17 300 316.6C302.5 316.03 304.83 315.53 307 314.8C309.17 314.07 311.25 313.1 313 312.2C314.75 311.3 316.33 310.07 317.5 309.4C318.67 308.73 319.58 308.4 320 308.2" fill="none" stroke="#008000" stroke-width="3.2" stroke-linejoin="round" stroke-linecap="round"/>
<path d="M300 327.3C301 327.15 304.08 326.92 306 326.4C307.92 325.88 309.92 325.18 311.5 324.2C313.08 323.22 314.28 322.03 315.5 320.5C316.72 318.97 318 316.92 318.8 315C319.6 313.08 320.05 310 320.3 309" fill="none" stroke="#008000" stroke-width="2.4" stroke-linejoin="round" stroke-linecap="round"/>
<polyline points="282,320.2 283,322.6 284.2,320.09 285.2,322.49 286.4,319.87 287.4,322.27 288.6,319.57 289.6,321.97 290.8,319.2 291.8,321.6 293,318.77 294,321.17 295.2,318.29 296.2,320.69 297.4,317.76 298.4,320.16 299.6,317.18 300.6,319.58 301.8,316.55 302.8,318.95 304,315.88 305,318.28 306.2,315.17 307.2,317.57 308.4,314.42 309.4,316.82 310.6,313.63 311.6,316.03 312.8,312.8 313.8,315.2 315,311.93 316,314.33 317.2,311.04 318.2,313.44" fill="none" stroke="#008000" stroke-width="1.1"/>
<rect x="55.3" y="236" width="284.7" height="202.9" fill="none" stroke="#000" stroke-width="2.1"/>
<text x="65.2" y="267.2" font-size="15" textLength="21" lengthAdjust="spacingAndGlyphs" fill="#000" stroke-width="0.6">(c)</text>
<text x="43.24" y="238.87" font-size="5.35" textLength="5.56" lengthAdjust="spacingAndGlyphs" fill="#000" stroke-width="0.32">-5</text>
<text x="16.21" y="243.48" font-size="9.42" textLength="26.43" lengthAdjust="spacingAndGlyphs" fill="#000" stroke-width="0.56">4x10</text>
<text x="43.24" y="262.81" font-size="5.35" textLength="5.56" lengthAdjust="spacingAndGlyphs" fill="#000" stroke-width="0.32">-5</text>
<text x="16.21" y="267.42" font-size="9.42" textLength="26.43" lengthAdjust="spacingAndGlyphs" fill="#000" stroke-width="0.56">3x10</text>
<text x="43.24" y="286.75" font-size="5.35" textLength="5.56" lengthAdjust="spacingAndGlyphs" fill="#000" stroke-width="0.32">-5</text>
<text x="16.21" y="291.36" font-size="9.42" textLength="26.43" lengthAdjust="spacingAndGlyphs" fill="#000" stroke-width="0.56">2x10</text>
<text x="43.24" y="310.69" font-size="5.35" textLength="5.56" lengthAdjust="spacingAndGlyphs" fill="#000" stroke-width="0.32">-5</text>
<text x="16.21" y="315.3" font-size="9.42" textLength="26.43" lengthAdjust="spacingAndGlyphs" fill="#000" stroke-width="0.56">1x10</text>
<text x="43.24" y="358.57" font-size="5.35" textLength="5.56" lengthAdjust="spacingAndGlyphs" fill="#000" stroke-width="0.32">-5</text>
<text x="12.26" y="363.18" font-size="9.42" textLength="30.38" lengthAdjust="spacingAndGlyphs" fill="#000" stroke-width="0.56">-1x10</text>
<text x="43.24" y="382.51" font-size="5.35" textLength="5.56" lengthAdjust="spacingAndGlyphs" fill="#000" stroke-width="0.32">-5</text>
<text x="12.26" y="387.12" font-size="9.42" textLength="30.38" lengthAdjust="spacingAndGlyphs" fill="#000" stroke-width="0.56">-2x10</text>
<text x="43.24" y="406.45" font-size="5.35" textLength="5.56" lengthAdjust="spacingAndGlyphs" fill="#000" stroke-width="0.32">-5</text>
<text x="12.26" y="411.06" font-size="9.42" textLength="30.38" lengthAdjust="spacingAndGlyphs" fill="#000" stroke-width="0.56">-3x10</text>
<text x="43.24" y="430.39" font-size="5.35" textLength="5.56" lengthAdjust="spacingAndGlyphs" fill="#000" stroke-width="0.32">-5</text>
<text x="12.26" y="435" font-size="9.42" textLength="30.38" lengthAdjust="spacingAndGlyphs" fill="#000" stroke-width="0.56">-4x10</text>
<text x="41.49" y="338.74" font-size="9.42" textLength="6.51" lengthAdjust="spacingAndGlyphs" fill="#000" stroke-width="0.56">0</text>
<text x="66.02" y="448.6" font-size="9.6" textLength="20.16" lengthAdjust="spacingAndGlyphs" fill="#000" stroke-width="0.58">-0.8</text>
<text x="106.82" y="448.6" font-size="9.6" textLength="20.16" lengthAdjust="spacingAndGlyphs" fill="#000" stroke-width="0.58">-0.6</text>
<text x="147.62" y="448.6" font-size="9.6" textLength="20.16" lengthAdjust="spacingAndGlyphs" fill="#000" stroke-width="0.58">-0.4</text>
<text x="188.42" y="448.6" font-size="9.6" textLength="20.16" lengthAdjust="spacingAndGlyphs" fill="#000" stroke-width="0.58">-0.2</text>
<text x="230.57" y="448.6" font-size="9.6" textLength="16.26" lengthAdjust="spacingAndGlyphs" fill="#000" stroke-width="0.58">0.0</text>
<text x="271.37" y="448.6" font-size="9.6" textLength="16.26" lengthAdjust="spacingAndGlyphs" fill="#000" stroke-width="0.58">0.2</text>
<text x="312.17" y="448.6" font-size="9.6" textLength="16.26" lengthAdjust="spacingAndGlyphs" fill="#000" stroke-width="0.58">0.4</text>
<text x="153.6" y="467.4" font-size="9.8" textLength="59.4" lengthAdjust="spacingAndGlyphs" fill="#000" stroke-width="0.59">Potential (E</text>
<text x="213.8" y="470.4" font-size="6" textLength="8.5" lengthAdjust="spacingAndGlyphs" fill="#000" stroke-width="0.36">we</text>
<text x="225.2" y="467.4" font-size="9.8" textLength="16.8" lengthAdjust="spacingAndGlyphs" fill="#000" stroke-width="0.59">/ V)</text>
<text transform="translate(10.6,377.7) rotate(-90)" x="0" y="0" font-size="10.3" textLength="73.3" lengthAdjust="spacingAndGlyphs" stroke-width="0.6">Current (I / A)</text>
<line x1="192.3" y1="365.9" x2="213.6" y2="365.9" stroke="#000000" stroke-width="2.2"/>
<text x="215.8" y="369.2" font-size="9.2" textLength="50.5" lengthAdjust="spacingAndGlyphs" fill="#000" stroke-width="0.55">Bare SPGE</text>
<line x1="192.3" y1="379.4" x2="213.6" y2="379.4" stroke="#ff0000" stroke-width="2.2"/>
<text x="215.8" y="382.7" font-size="9.2" textLength="19.66" lengthAdjust="spacingAndGlyphs" fill="#000" stroke-width="0.55">MoS</text>
<text x="235.46" y="385.3" font-size="5.8" textLength="3.27" lengthAdjust="spacingAndGlyphs" fill="#000" stroke-width="0.35">2</text>
<text x="238.73" y="382.7" font-size="9.2" textLength="28.47" lengthAdjust="spacingAndGlyphs" fill="#000" stroke-width="0.55">/SPGE</text>
<line x1="192.3" y1="394.4" x2="213.6" y2="394.4" stroke="#800000" stroke-width="2.2"/>
<text x="215.8" y="397.7" font-size="9.2" textLength="72.76" lengthAdjust="spacingAndGlyphs" fill="#000" stroke-width="0.55">Target (ds)/MoS</text>
<text x="288.56" y="400.3" font-size="5.8" textLength="3.41" lengthAdjust="spacingAndGlyphs" fill="#000" stroke-width="0.35">2</text>
<text x="291.97" y="397.7" font-size="9.2" textLength="29.73" lengthAdjust="spacingAndGlyphs" fill="#000" stroke-width="0.55">/SPGE</text>
<line x1="192.3" y1="410.7" x2="213.6" y2="410.7" stroke="#008000" stroke-width="2.2"/>
<text x="215.8" y="414" font-size="9.2" textLength="92.19" lengthAdjust="spacingAndGlyphs" fill="#000" stroke-width="0.55">Probe (ss) DNA/MoS</text>
<text x="307.99" y="416.6" font-size="5.8" textLength="3.32" lengthAdjust="spacingAndGlyphs" fill="#000" stroke-width="0.35">2</text>
<text x="311.32" y="414" font-size="9.2" textLength="28.98" lengthAdjust="spacingAndGlyphs" fill="#000" stroke-width="0.55">/SPGE</text>
<ellipse cx="443" cy="414.5" rx="5.66" ry="4.6" fill="url(#gB)"/>
<ellipse cx="443.34" cy="411.44" rx="5.66" ry="4.6" fill="url(#gB)"/>
<ellipse cx="443.76" cy="408.38" rx="5.66" ry="4.6" fill="url(#gB)"/>
<ellipse cx="444.3" cy="405.31" rx="5.66" ry="4.6" fill="url(#gB)"/>
<ellipse cx="444.91" cy="402.22" rx="5.66" ry="4.6" fill="url(#gB)"/>
<ellipse cx="445.53" cy="399.07" rx="5.66" ry="4.6" fill="url(#gB)"/>
<ellipse cx="446.18" cy="395.87" rx="5.66" ry="4.6" fill="url(#gB)"/>
<ellipse cx="446.86" cy="392.6" rx="5.66" ry="4.6" fill="url(#gB)"/>
<ellipse cx="447.57" cy="389.26" rx="5.66" ry="4.6" fill="url(#gB)"/>
<ellipse cx="448.33" cy="385.82" rx="5.66" ry="4.6" fill="url(#gB)"/>
<ellipse cx="449.14" cy="382.3" rx="5.66" ry="4.6" fill="url(#gB)"/>
<ellipse cx="450.03" cy="378.67" rx="5.66" ry="4.6" fill="url(#gB)"/>
<ellipse cx="451" cy="374.93" rx="5.66" ry="4.6" fill="url(#gB)"/>
<ellipse cx="452.03" cy="371.08" rx="5.66" ry="4.6" fill="url(#gB)"/>
<ellipse cx="453.14" cy="367.11" rx="5.66" ry="4.6" fill="url(#gB)"/>
<ellipse cx="454.34" cy="363.01" rx="5.66" ry="4.6" fill="url(#gB)"/>
<ellipse cx="455.62" cy="358.78" rx="5.66" ry="4.6" fill="url(#gB)"/>
<ellipse cx="456.99" cy="354.42" rx="5.66" ry="4.6" fill="url(#gB)"/>
<ellipse cx="458.42" cy="349.92" rx="5.66" ry="4.6" fill="url(#gB)"/>
<ellipse cx="459.9" cy="345.26" rx="5.66" ry="4.6" fill="url(#gB)"/>
<ellipse cx="461.5" cy="340.48" rx="5.66" ry="4.6" fill="url(#gB)"/>
<ellipse cx="463.29" cy="335.59" rx="5.66" ry="4.6" fill="url(#gB)"/>
<ellipse cx="465.35" cy="330.63" rx="5.66" ry="4.6" fill="url(#gB)"/>
<ellipse cx="467.71" cy="325.63" rx="5.66" ry="4.6" fill="url(#gB)"/>
<ellipse cx="470.31" cy="320.58" rx="5.66" ry="4.6" fill="url(#gB)"/>
<ellipse cx="473.15" cy="315.48" rx="5.66" ry="4.6" fill="url(#gB)"/>
<ellipse cx="476.23" cy="310.35" rx="5.66" ry="4.6" fill="url(#gB)"/>
<ellipse cx="479.57" cy="305.21" rx="5.66" ry="4.6" fill="url(#gB)"/>
<ellipse cx="483.15" cy="300.07" rx="5.66" ry="4.6" fill="url(#gB)"/>
<ellipse cx="486.94" cy="294.92" rx="5.66" ry="4.6" fill="url(#gB)"/>
<ellipse cx="491.05" cy="289.86" rx="5.66" ry="4.6" fill="url(#gB)"/>
<ellipse cx="495.58" cy="285.02" rx="5.66" ry="4.6" fill="url(#gB)"/>
<ellipse cx="500.61" cy="280.54" rx="5.66" ry="4.6" fill="url(#gB)"/>
<ellipse cx="506.06" cy="276.43" rx="5.66" ry="4.6" fill="url(#gB)"/>
<ellipse cx="511.83" cy="272.62" rx="5.66" ry="4.6" fill="url(#gB)"/>
<ellipse cx="517.87" cy="269.1" rx="5.66" ry="4.6" fill="url(#gB)"/>
<ellipse cx="524.17" cy="265.94" rx="5.66" ry="4.6" fill="url(#gB)"/>
<ellipse cx="530.67" cy="263.09" rx="5.66" ry="4.6" fill="url(#gB)"/>
<ellipse cx="537.44" cy="260.82" rx="5.66" ry="4.6" fill="url(#gB)"/>
<ellipse cx="544.49" cy="259.62" rx="5.66" ry="4.6" fill="url(#gB)"/>
<ellipse cx="551.65" cy="259.73" rx="5.66" ry="4.6" fill="url(#gB)"/>
<ellipse cx="558.73" cy="260.9" rx="5.66" ry="4.6" fill="url(#gB)"/>
<ellipse cx="565.66" cy="262.7" rx="5.66" ry="4.6" fill="url(#gB)"/>
<ellipse cx="572.45" cy="264.9" rx="5.66" ry="4.6" fill="url(#gB)"/>
<ellipse cx="579.08" cy="267.44" rx="5.66" ry="4.6" fill="url(#gB)"/>
<ellipse cx="585.44" cy="270.46" rx="5.66" ry="4.6" fill="url(#gB)"/>
<ellipse cx="591.49" cy="273.97" rx="5.66" ry="4.6" fill="url(#gB)"/>
<ellipse cx="597.21" cy="277.85" rx="5.66" ry="4.6" fill="url(#gB)"/>
<ellipse cx="602.59" cy="282.06" rx="5.66" ry="4.6" fill="url(#gB)"/>
<ellipse cx="607.58" cy="286.58" rx="5.66" ry="4.6" fill="url(#gB)"/>
<ellipse cx="612.21" cy="291.33" rx="5.66" ry="4.6" fill="url(#gB)"/>
<ellipse cx="616.52" cy="296.22" rx="5.66" ry="4.6" fill="url(#gB)"/>
<ellipse cx="620.51" cy="301.22" rx="5.66" ry="4.6" fill="url(#gB)"/>
<ellipse cx="624.16" cy="306.31" rx="5.66" ry="4.6" fill="url(#gB)"/>
<ellipse cx="627.49" cy="311.45" rx="5.66" ry="4.6" fill="url(#gB)"/>
<ellipse cx="630.52" cy="316.62" rx="5.66" ry="4.6" fill="url(#gB)"/>
<ellipse cx="633.25" cy="321.77" rx="5.66" ry="4.6" fill="url(#gB)"/>
<ellipse cx="635.68" cy="326.91" rx="5.66" ry="4.6" fill="url(#gB)"/>
<ellipse cx="637.87" cy="331.98" rx="5.66" ry="4.6" fill="url(#gB)"/>
<ellipse cx="639.86" cy="336.97" rx="5.66" ry="4.6" fill="url(#gB)"/>
<ellipse cx="641.67" cy="341.85" rx="5.66" ry="4.6" fill="url(#gB)"/>
<ellipse cx="643.33" cy="346.62" rx="5.66" ry="4.6" fill="url(#gB)"/>
<ellipse cx="644.79" cy="351.28" rx="5.66" ry="4.6" fill="url(#gB)"/>
<ellipse cx="646.08" cy="355.83" rx="5.66" ry="4.6" fill="url(#gB)"/>
<ellipse cx="647.24" cy="360.25" rx="5.66" ry="4.6" fill="url(#gB)"/>
<ellipse cx="648.3" cy="364.54" rx="5.66" ry="4.6" fill="url(#gB)"/>
<ellipse cx="649.3" cy="368.69" rx="5.66" ry="4.6" fill="url(#gB)"/>
<ellipse cx="650.21" cy="372.71" rx="5.66" ry="4.6" fill="url(#gB)"/>
<ellipse cx="651.04" cy="376.61" rx="5.66" ry="4.6" fill="url(#gB)"/>
<ellipse cx="651.79" cy="380.39" rx="5.66" ry="4.6" fill="url(#gB)"/>
<ellipse cx="652.49" cy="384.06" rx="5.66" ry="4.6" fill="url(#gB)"/>
<ellipse cx="653.14" cy="387.62" rx="5.66" ry="4.6" fill="url(#gB)"/>
<ellipse cx="653.77" cy="391.08" rx="5.66" ry="4.6" fill="url(#gB)"/>
<ellipse cx="654.38" cy="394.45" rx="5.66" ry="4.6" fill="url(#gB)"/>
<ellipse cx="654.96" cy="397.74" rx="5.66" ry="4.6" fill="url(#gB)"/>
<ellipse cx="655.51" cy="400.96" rx="5.66" ry="4.6" fill="url(#gB)"/>
<ellipse cx="656.03" cy="404.12" rx="5.66" ry="4.6" fill="url(#gB)"/>
<ellipse cx="656.53" cy="407.23" rx="5.66" ry="4.6" fill="url(#gB)"/>
<ellipse cx="657.03" cy="410.31" rx="5.66" ry="4.6" fill="url(#gB)"/>
<ellipse cx="657.51" cy="413.36" rx="5.66" ry="4.6" fill="url(#gB)"/>
<ellipse cx="658" cy="416.4" rx="5.66" ry="4.6" fill="url(#gB)"/>
<ellipse cx="445.5" cy="415" rx="6.15" ry="5" fill="url(#gK)"/>
<ellipse cx="446.29" cy="412.01" rx="6.15" ry="5" fill="url(#gK)"/>
<ellipse cx="447.08" cy="409" rx="6.15" ry="5" fill="url(#gK)"/>
<ellipse cx="447.92" cy="405.96" rx="6.15" ry="5" fill="url(#gK)"/>
<ellipse cx="448.84" cy="402.89" rx="6.15" ry="5" fill="url(#gK)"/>
<ellipse cx="449.81" cy="399.76" rx="6.15" ry="5" fill="url(#gK)"/>
<ellipse cx="450.86" cy="396.56" rx="6.15" ry="5" fill="url(#gK)"/>
<ellipse cx="452.02" cy="393.29" rx="6.15" ry="5" fill="url(#gK)"/>
<ellipse cx="453.3" cy="389.93" rx="6.15" ry="5" fill="url(#gK)"/>
<ellipse cx="454.71" cy="386.47" rx="6.15" ry="5" fill="url(#gK)"/>
<ellipse cx="456.24" cy="382.91" rx="6.15" ry="5" fill="url(#gK)"/>
<ellipse cx="457.9" cy="379.23" rx="6.15" ry="5" fill="url(#gK)"/>
<ellipse cx="459.7" cy="375.43" rx="6.15" ry="5" fill="url(#gK)"/>
<ellipse cx="461.66" cy="371.5" rx="6.15" ry="5" fill="url(#gK)"/>
<ellipse cx="463.75" cy="367.44" rx="6.15" ry="5" fill="url(#gK)"/>
<ellipse cx="465.95" cy="363.22" rx="6.15" ry="5" fill="url(#gK)"/>
<ellipse cx="468.28" cy="358.84" rx="6.15" ry="5" fill="url(#gK)"/>
<ellipse cx="470.76" cy="354.32" rx="6.15" ry="5" fill="url(#gK)"/>
<ellipse cx="473.39" cy="349.67" rx="6.15" ry="5" fill="url(#gK)"/>
<ellipse cx="476.19" cy="344.89" rx="6.15" ry="5" fill="url(#gK)"/>
<ellipse cx="479.18" cy="340" rx="6.15" ry="5" fill="url(#gK)"/>
<ellipse cx="482.38" cy="335.02" rx="6.15" ry="5" fill="url(#gK)"/>
<ellipse cx="485.78" cy="329.96" rx="6.15" ry="5" fill="url(#gK)"/>
<ellipse cx="489.46" cy="324.89" rx="6.15" ry="5" fill="url(#gK)"/>
<ellipse cx="493.37" cy="319.79" rx="6.15" ry="5" fill="url(#gK)"/>
<ellipse cx="497.55" cy="314.73" rx="6.15" ry="5" fill="url(#gK)"/>
<ellipse cx="502.13" cy="309.82" rx="6.15" ry="5" fill="url(#gK)"/>
<ellipse cx="507.03" cy="305.07" rx="6.15" ry="5" fill="url(#gK)"/>
<ellipse cx="512.37" cy="300.65" rx="6.15" ry="5" fill="url(#gK)"/>
<ellipse cx="518.25" cy="296.8" rx="6.15" ry="5" fill="url(#gK)"/>
<ellipse cx="524.55" cy="293.54" rx="6.15" ry="5" fill="url(#gK)"/>
<ellipse cx="531.27" cy="291.11" rx="6.15" ry="5" fill="url(#gK)"/>
<ellipse cx="538.25" cy="289.37" rx="6.15" ry="5" fill="url(#gK)"/>
<ellipse cx="545.38" cy="288.41" rx="6.15" ry="5" fill="url(#gK)"/>
<ellipse cx="552.59" cy="288.37" rx="6.15" ry="5" fill="url(#gK)"/>
<ellipse cx="559.76" cy="288.86" rx="6.15" ry="5" fill="url(#gK)"/>
<ellipse cx="566.81" cy="290.04" rx="6.15" ry="5" fill="url(#gK)"/>
<ellipse cx="573.53" cy="292.29" rx="6.15" ry="5" fill="url(#gK)"/>
<ellipse cx="579.59" cy="295.82" rx="6.15" ry="5" fill="url(#gK)"/>
<ellipse cx="585.04" cy="300.1" rx="6.15" ry="5" fill="url(#gK)"/>
<ellipse cx="590.06" cy="304.74" rx="6.15" ry="5" fill="url(#gK)"/>
<ellipse cx="594.74" cy="309.54" rx="6.15" ry="5" fill="url(#gK)"/>
<ellipse cx="598.96" cy="314.58" rx="6.15" ry="5" fill="url(#gK)"/>
<ellipse cx="602.52" cy="319.93" rx="6.15" ry="5" fill="url(#gK)"/>
<ellipse cx="605.6" cy="325.38" rx="6.15" ry="5" fill="url(#gK)"/>
<ellipse cx="608.42" cy="330.78" rx="6.15" ry="5" fill="url(#gK)"/>
<ellipse cx="610.84" cy="336.18" rx="6.15" ry="5" fill="url(#gK)"/>
<ellipse cx="613.01" cy="341.49" rx="6.15" ry="5" fill="url(#gK)"/>
<ellipse cx="615.03" cy="346.65" rx="6.15" ry="5" fill="url(#gK)"/>
<ellipse cx="616.96" cy="351.63" rx="6.15" ry="5" fill="url(#gK)"/>
<ellipse cx="618.73" cy="356.47" rx="6.15" ry="5" fill="url(#gK)"/>
<ellipse cx="620.3" cy="361.17" rx="6.15" ry="5" fill="url(#gK)"/>
<ellipse cx="621.72" cy="365.72" rx="6.15" ry="5" fill="url(#gK)"/>
<ellipse cx="623.02" cy="370.1" rx="6.15" ry="5" fill="url(#gK)"/>
<ellipse cx="624.22" cy="374.32" rx="6.15" ry="5" fill="url(#gK)"/>
<ellipse cx="625.33" cy="378.38" rx="6.15" ry="5" fill="url(#gK)"/>
<ellipse cx="626.37" cy="382.28" rx="6.15" ry="5" fill="url(#gK)"/>
<ellipse cx="627.33" cy="386.03" rx="6.15" ry="5" fill="url(#gK)"/>
<ellipse cx="628.22" cy="389.66" rx="6.15" ry="5" fill="url(#gK)"/>
<ellipse cx="629.04" cy="393.16" rx="6.15" ry="5" fill="url(#gK)"/>
<ellipse cx="629.79" cy="396.55" rx="6.15" ry="5" fill="url(#gK)"/>
<ellipse cx="630.49" cy="399.84" rx="6.15" ry="5" fill="url(#gK)"/>
<ellipse cx="631.13" cy="403.06" rx="6.15" ry="5" fill="url(#gK)"/>
<ellipse cx="631.71" cy="406.21" rx="6.15" ry="5" fill="url(#gK)"/>
<ellipse cx="632.16" cy="409.33" rx="6.15" ry="5" fill="url(#gK)"/>
<ellipse cx="632.5" cy="412.42" rx="6.15" ry="5" fill="url(#gK)"/>
<ellipse cx="632.8" cy="415.5" rx="6.15" ry="5" fill="url(#gK)"/>
<ellipse cx="445.5" cy="415" rx="6.33" ry="5.15" fill="url(#gR)"/>
<ellipse cx="446.28" cy="412.04" rx="6.33" ry="5.15" fill="url(#gR)"/>
<ellipse cx="447.07" cy="409.05" rx="6.33" ry="5.15" fill="url(#gR)"/>
<ellipse cx="447.9" cy="406.04" rx="6.33" ry="5.15" fill="url(#gR)"/>
<ellipse cx="448.81" cy="402.99" rx="6.33" ry="5.15" fill="url(#gR)"/>
<ellipse cx="449.78" cy="399.88" rx="6.33" ry="5.15" fill="url(#gR)"/>
<ellipse cx="450.82" cy="396.7" rx="6.33" ry="5.15" fill="url(#gR)"/>
<ellipse cx="451.97" cy="393.43" rx="6.33" ry="5.15" fill="url(#gR)"/>
<ellipse cx="453.25" cy="390.07" rx="6.33" ry="5.15" fill="url(#gR)"/>
<ellipse cx="454.65" cy="386.61" rx="6.33" ry="5.15" fill="url(#gR)"/>
<ellipse cx="456.18" cy="383.04" rx="6.33" ry="5.15" fill="url(#gR)"/>
<ellipse cx="457.84" cy="379.34" rx="6.33" ry="5.15" fill="url(#gR)"/>
<ellipse cx="459.66" cy="375.52" rx="6.33" ry="5.15" fill="url(#gR)"/>
<ellipse cx="461.63" cy="371.57" rx="6.33" ry="5.15" fill="url(#gR)"/>
<ellipse cx="463.74" cy="367.47" rx="6.33" ry="5.15" fill="url(#gR)"/>
<ellipse cx="465.96" cy="363.21" rx="6.33" ry="5.15" fill="url(#gR)"/>
<ellipse cx="468.3" cy="358.79" rx="6.33" ry="5.15" fill="url(#gR)"/>
<ellipse cx="470.81" cy="354.23" rx="6.33" ry="5.15" fill="url(#gR)"/>
<ellipse cx="473.47" cy="349.53" rx="6.33" ry="5.15" fill="url(#gR)"/>
<ellipse cx="476.3" cy="344.7" rx="6.33" ry="5.15" fill="url(#gR)"/>
<ellipse cx="479.33" cy="339.77" rx="6.33" ry="5.15" fill="url(#gR)"/>
<ellipse cx="482.56" cy="334.74" rx="6.33" ry="5.15" fill="url(#gR)"/>
<ellipse cx="486.01" cy="329.64" rx="6.33" ry="5.15" fill="url(#gR)"/>
<ellipse cx="489.72" cy="324.54" rx="6.33" ry="5.15" fill="url(#gR)"/>
<ellipse cx="493.66" cy="319.4" rx="6.33" ry="5.15" fill="url(#gR)"/>
<ellipse cx="497.89" cy="314.31" rx="6.33" ry="5.15" fill="url(#gR)"/>
<ellipse cx="502.56" cy="309.45" rx="6.33" ry="5.15" fill="url(#gR)"/>
<ellipse cx="507.62" cy="304.84" rx="6.33" ry="5.15" fill="url(#gR)"/>
<ellipse cx="513.12" cy="300.6" rx="6.33" ry="5.15" fill="url(#gR)"/>
<ellipse cx="519.07" cy="296.86" rx="6.33" ry="5.15" fill="url(#gR)"/>
<ellipse cx="525.43" cy="293.75" rx="6.33" ry="5.15" fill="url(#gR)"/>
<ellipse cx="532.23" cy="291.68" rx="6.33" ry="5.15" fill="url(#gR)"/>
<ellipse cx="539.29" cy="290.67" rx="6.33" ry="5.15" fill="url(#gR)"/>
<ellipse cx="546.43" cy="290.52" rx="6.33" ry="5.15" fill="url(#gR)"/>
<ellipse cx="553.49" cy="291.37" rx="6.33" ry="5.15" fill="url(#gR)"/>
<ellipse cx="560.31" cy="293.26" rx="6.33" ry="5.15" fill="url(#gR)"/>
<ellipse cx="566.89" cy="295.71" rx="6.33" ry="5.15" fill="url(#gR)"/>
<ellipse cx="572.99" cy="299.02" rx="6.33" ry="5.15" fill="url(#gR)"/>
<ellipse cx="578.09" cy="303.57" rx="6.33" ry="5.15" fill="url(#gR)"/>
<ellipse cx="582.36" cy="308.79" rx="6.33" ry="5.15" fill="url(#gR)"/>
<ellipse cx="586.13" cy="314.22" rx="6.33" ry="5.15" fill="url(#gR)"/>
<ellipse cx="589.51" cy="319.74" rx="6.33" ry="5.15" fill="url(#gR)"/>
<ellipse cx="592.39" cy="325.36" rx="6.33" ry="5.15" fill="url(#gR)"/>
<ellipse cx="594.88" cy="330.98" rx="6.33" ry="5.15" fill="url(#gR)"/>
<ellipse cx="597.17" cy="336.5" rx="6.33" ry="5.15" fill="url(#gR)"/>
<ellipse cx="599.33" cy="341.88" rx="6.33" ry="5.15" fill="url(#gR)"/>
<ellipse cx="601.27" cy="347.13" rx="6.33" ry="5.15" fill="url(#gR)"/>
<ellipse cx="602.96" cy="352.26" rx="6.33" ry="5.15" fill="url(#gR)"/>
<ellipse cx="604.44" cy="357.25" rx="6.33" ry="5.15" fill="url(#gR)"/>
<ellipse cx="605.66" cy="362.1" rx="6.33" ry="5.15" fill="url(#gR)"/>
<ellipse cx="606.73" cy="366.78" rx="6.33" ry="5.15" fill="url(#gR)"/>
<ellipse cx="607.73" cy="371.28" rx="6.33" ry="5.15" fill="url(#gR)"/>
<ellipse cx="608.71" cy="375.58" rx="6.33" ry="5.15" fill="url(#gR)"/>
<ellipse cx="609.66" cy="379.71" rx="6.33" ry="5.15" fill="url(#gR)"/>
<ellipse cx="610.55" cy="383.66" rx="6.33" ry="5.15" fill="url(#gR)"/>
<ellipse cx="611.39" cy="387.46" rx="6.33" ry="5.15" fill="url(#gR)"/>
<ellipse cx="612.18" cy="391.11" rx="6.33" ry="5.15" fill="url(#gR)"/>
<ellipse cx="612.92" cy="394.62" rx="6.33" ry="5.15" fill="url(#gR)"/>
<ellipse cx="613.61" cy="398.01" rx="6.33" ry="5.15" fill="url(#gR)"/>
<ellipse cx="614.27" cy="401.3" rx="6.33" ry="5.15" fill="url(#gR)"/>
<ellipse cx="614.9" cy="404.5" rx="6.33" ry="5.15" fill="url(#gR)"/>
<ellipse cx="615.49" cy="407.63" rx="6.33" ry="5.15" fill="url(#gR)"/>
<ellipse cx="616.05" cy="410.7" rx="6.33" ry="5.15" fill="url(#gR)"/>
<ellipse cx="616.51" cy="413.75" rx="6.33" ry="5.15" fill="url(#gR)"/>
<ellipse cx="616.8" cy="416.8" rx="6.33" ry="5.15" fill="url(#gR)"/>
<ellipse cx="443" cy="414" rx="6.4" ry="5.2" fill="url(#gM)"/>
<ellipse cx="444.01" cy="411.05" rx="6.4" ry="5.2" fill="url(#gM)"/>
<ellipse cx="445.02" cy="408.08" rx="6.4" ry="5.2" fill="url(#gM)"/>
<ellipse cx="446.05" cy="405.07" rx="6.4" ry="5.2" fill="url(#gM)"/>
<ellipse cx="447.1" cy="401.99" rx="6.4" ry="5.2" fill="url(#gM)"/>
<ellipse cx="448.2" cy="398.82" rx="6.4" ry="5.2" fill="url(#gM)"/>
<ellipse cx="449.35" cy="395.55" rx="6.4" ry="5.2" fill="url(#gM)"/>
<ellipse cx="450.56" cy="392.16" rx="6.4" ry="5.2" fill="url(#gM)"/>
<ellipse cx="451.84" cy="388.62" rx="6.4" ry="5.2" fill="url(#gM)"/>
<ellipse cx="453.18" cy="384.93" rx="6.4" ry="5.2" fill="url(#gM)"/>
<ellipse cx="454.6" cy="381.07" rx="6.4" ry="5.2" fill="url(#gM)"/>
<ellipse cx="456.12" cy="377.04" rx="6.4" ry="5.2" fill="url(#gM)"/>
<ellipse cx="457.74" cy="372.82" rx="6.4" ry="5.2" fill="url(#gM)"/>
<ellipse cx="459.5" cy="368.42" rx="6.4" ry="5.2" fill="url(#gM)"/>
<ellipse cx="461.36" cy="363.82" rx="6.4" ry="5.2" fill="url(#gM)"/>
<ellipse cx="463.35" cy="359.04" rx="6.4" ry="5.2" fill="url(#gM)"/>
<ellipse cx="465.47" cy="354.07" rx="6.4" ry="5.2" fill="url(#gM)"/>
<ellipse cx="467.79" cy="348.94" rx="6.4" ry="5.2" fill="url(#gM)"/>
<ellipse cx="470.36" cy="343.69" rx="6.4" ry="5.2" fill="url(#gM)"/>
<ellipse cx="473.18" cy="338.34" rx="6.4" ry="5.2" fill="url(#gM)"/>
<ellipse cx="476.24" cy="332.89" rx="6.4" ry="5.2" fill="url(#gM)"/>
<ellipse cx="479.57" cy="327.38" rx="6.4" ry="5.2" fill="url(#gM)"/>
<ellipse cx="483.21" cy="321.87" rx="6.4" ry="5.2" fill="url(#gM)"/>
<ellipse cx="487.22" cy="316.42" rx="6.4" ry="5.2" fill="url(#gM)"/>
<ellipse cx="491.72" cy="311.2" rx="6.4" ry="5.2" fill="url(#gM)"/>
<ellipse cx="496.8" cy="306.38" rx="6.4" ry="5.2" fill="url(#gM)"/>
<ellipse cx="502.46" cy="302.09" rx="6.4" ry="5.2" fill="url(#gM)"/>
<ellipse cx="508.76" cy="298.67" rx="6.4" ry="5.2" fill="url(#gM)"/>
<ellipse cx="515.5" cy="296.07" rx="6.4" ry="5.2" fill="url(#gM)"/>
<ellipse cx="522.62" cy="294.82" rx="6.4" ry="5.2" fill="url(#gM)"/>
<ellipse cx="529.84" cy="295.34" rx="6.4" ry="5.2" fill="url(#gM)"/>
<ellipse cx="536.83" cy="297.14" rx="6.4" ry="5.2" fill="url(#gM)"/>
<ellipse cx="543.27" cy="300.28" rx="6.4" ry="5.2" fill="url(#gM)"/>
<ellipse cx="548.79" cy="304.73" rx="6.4" ry="5.2" fill="url(#gM)"/>
<ellipse cx="553.64" cy="309.79" rx="6.4" ry="5.2" fill="url(#gM)"/>
<ellipse cx="558.07" cy="315.07" rx="6.4" ry="5.2" fill="url(#gM)"/>
<ellipse cx="562.15" cy="320.46" rx="6.4" ry="5.2" fill="url(#gM)"/>
<ellipse cx="565.7" cy="326.04" rx="6.4" ry="5.2" fill="url(#gM)"/>
<ellipse cx="568.73" cy="331.71" rx="6.4" ry="5.2" fill="url(#gM)"/>
<ellipse cx="571.34" cy="337.39" rx="6.4" ry="5.2" fill="url(#gM)"/>
<ellipse cx="573.59" cy="343.01" rx="6.4" ry="5.2" fill="url(#gM)"/>
<ellipse cx="575.57" cy="348.51" rx="6.4" ry="5.2" fill="url(#gM)"/>
<ellipse cx="577.33" cy="353.85" rx="6.4" ry="5.2" fill="url(#gM)"/>
<ellipse cx="578.88" cy="359.03" rx="6.4" ry="5.2" fill="url(#gM)"/>
<ellipse cx="580.15" cy="364.05" rx="6.4" ry="5.2" fill="url(#gM)"/>
<ellipse cx="581.21" cy="368.9" rx="6.4" ry="5.2" fill="url(#gM)"/>
<ellipse cx="582.17" cy="373.53" rx="6.4" ry="5.2" fill="url(#gM)"/>
<ellipse cx="583.13" cy="377.95" rx="6.4" ry="5.2" fill="url(#gM)"/>
<ellipse cx="584.18" cy="382.13" rx="6.4" ry="5.2" fill="url(#gM)"/>
<ellipse cx="585.35" cy="386.08" rx="6.4" ry="5.2" fill="url(#gM)"/>
<ellipse cx="586.55" cy="389.81" rx="6.4" ry="5.2" fill="url(#gM)"/>
<ellipse cx="587.68" cy="393.4" rx="6.4" ry="5.2" fill="url(#gM)"/>
<ellipse cx="588.63" cy="396.87" rx="6.4" ry="5.2" fill="url(#gM)"/>
<ellipse cx="589.34" cy="400.27" rx="6.4" ry="5.2" fill="url(#gM)"/>
<ellipse cx="589.84" cy="403.58" rx="6.4" ry="5.2" fill="url(#gM)"/>
<ellipse cx="590.24" cy="406.81" rx="6.4" ry="5.2" fill="url(#gM)"/>
<ellipse cx="590.58" cy="409.98" rx="6.4" ry="5.2" fill="url(#gM)"/>
<ellipse cx="590.88" cy="413.1" rx="6.4" ry="5.2" fill="url(#gM)"/>
<ellipse cx="591.2" cy="416.2" rx="6.4" ry="5.2" fill="url(#gM)"/>
<line x1="633" y1="415.6" x2="657.5" y2="415.6" stroke="#000" stroke-width="0.8"/>
<circle cx="633" cy="415.6" r="4.6" fill="url(#gR)" stroke="#000" stroke-width="0.7"/>
<rect x="397.8" y="236" width="283.9" height="202.8" fill="none" stroke="#000" stroke-width="2.1"/>
<text x="408.8" y="264.8" font-size="15" textLength="21" lengthAdjust="spacingAndGlyphs" fill="#000" stroke-width="0.6">(d)</text>
<text x="367.51" y="250.86" font-size="9.2" textLength="29.09" lengthAdjust="spacingAndGlyphs" fill="#000" stroke-width="0.55">1.5E4</text>
<text x="367.51" y="268.21" font-size="9.2" textLength="29.09" lengthAdjust="spacingAndGlyphs" fill="#000" stroke-width="0.55">1.4E4</text>
<text x="367.51" y="285.56" font-size="9.2" textLength="29.09" lengthAdjust="spacingAndGlyphs" fill="#000" stroke-width="0.55">1.2E4</text>
<text x="367.51" y="302.91" font-size="9.2" textLength="29.09" lengthAdjust="spacingAndGlyphs" fill="#000" stroke-width="0.55">1.1E4</text>
<text x="367.51" y="320.26" font-size="9.2" textLength="29.09" lengthAdjust="spacingAndGlyphs" fill="#000" stroke-width="0.55">9.0E3</text>
<text x="367.51" y="337.61" font-size="9.2" textLength="29.09" lengthAdjust="spacingAndGlyphs" fill="#000" stroke-width="0.55">7.5E3</text>
<text x="367.51" y="354.96" font-size="9.2" textLength="29.09" lengthAdjust="spacingAndGlyphs" fill="#000" stroke-width="0.55">6.0E3</text>
<text x="367.51" y="372.31" font-size="9.2" textLength="29.09" lengthAdjust="spacingAndGlyphs" fill="#000" stroke-width="0.55">4.5E3</text>
<text x="367.51" y="389.66" font-size="9.2" textLength="29.09" lengthAdjust="spacingAndGlyphs" fill="#000" stroke-width="0.55">3.0E3</text>
<text x="367.51" y="407.01" font-size="9.2" textLength="29.09" lengthAdjust="spacingAndGlyphs" fill="#000" stroke-width="0.55">1.5E3</text>
<text x="381.12" y="424.36" font-size="9.2" textLength="15.48" lengthAdjust="spacingAndGlyphs" fill="#000" stroke-width="0.55">0.0</text>
<text x="363.8" y="441.71" font-size="9.2" textLength="32.8" lengthAdjust="spacingAndGlyphs" fill="#000" stroke-width="0.55">-1.5E3</text>
<text x="382.48" y="451.1" font-size="9.5" textLength="31.24" lengthAdjust="spacingAndGlyphs" fill="#000" stroke-width="0.57">-8.0E3</text>
<text x="433.83" y="451.1" font-size="9.5" textLength="14.74" lengthAdjust="spacingAndGlyphs" fill="#000" stroke-width="0.57">0.0</text>
<text x="470.45" y="451.1" font-size="9.5" textLength="27.71" lengthAdjust="spacingAndGlyphs" fill="#000" stroke-width="0.57">8.0E3</text>
<text x="513.55" y="451.1" font-size="9.5" textLength="27.71" lengthAdjust="spacingAndGlyphs" fill="#000" stroke-width="0.57">1.6E4</text>
<text x="556.65" y="451.1" font-size="9.5" textLength="27.71" lengthAdjust="spacingAndGlyphs" fill="#000" stroke-width="0.57">2.4E4</text>
<text x="599.75" y="451.1" font-size="9.5" textLength="27.71" lengthAdjust="spacingAndGlyphs" fill="#000" stroke-width="0.57">3.2E4</text>
<text x="642.85" y="451.1" font-size="9.5" textLength="27.71" lengthAdjust="spacingAndGlyphs" fill="#000" stroke-width="0.57">4.0E4</text>
<text x="514.2" y="467.4" font-size="10.6" textLength="50.6" lengthAdjust="spacingAndGlyphs" fill="#000" stroke-width="0.6">Z' (Ohm)</text>
<text transform="translate(357,372) rotate(-90)" x="0" y="0" font-size="10.6" textLength="52.5" lengthAdjust="spacingAndGlyphs" stroke-width="0.6">Z'' (Ohm)</text>
<line x1="463" y1="369.9" x2="485" y2="369.9" stroke="#ff00ff" stroke-width="0.8"/>
<circle cx="474.1" cy="369.9" r="5.4" fill="url(#gM)"/>
<text x="489.4" y="373.6" font-size="10.2" textLength="59.24" lengthAdjust="spacingAndGlyphs" fill="#000" stroke-width="0.6">Bare SPGE</text>
<line x1="463" y1="386.1" x2="485" y2="386.1" stroke="#ff0000" stroke-width="0.8"/>
<circle cx="474.1" cy="386.1" r="5.4" fill="url(#gR)"/>
<text x="489.4" y="389.8" font-size="10.2" textLength="23.68" lengthAdjust="spacingAndGlyphs" fill="#000" stroke-width="0.6">MoS</text>
<text x="513.08" y="392.6" font-size="6" textLength="4.34" lengthAdjust="spacingAndGlyphs" fill="#000" stroke-width="0.36">2</text>
<text x="517.42" y="389.8" font-size="10.2" textLength="34.3" lengthAdjust="spacingAndGlyphs" fill="#000" stroke-width="0.6">/SPGE</text>
<line x1="463" y1="404.3" x2="485" y2="404.3" stroke="#000000" stroke-width="0.8"/>
<circle cx="474.1" cy="404.3" r="5.4" fill="url(#gK)"/>
<text x="489.4" y="408" font-size="10.2" textLength="58.59" lengthAdjust="spacingAndGlyphs" fill="#000" stroke-width="0.6">PDNA/MoS</text>
<text x="547.99" y="410.8" font-size="6" textLength="4.34" lengthAdjust="spacingAndGlyphs" fill="#000" stroke-width="0.36">2</text>
<text x="552.33" y="408" font-size="10.2" textLength="34.3" lengthAdjust="spacingAndGlyphs" fill="#000" stroke-width="0.6">/SPGE</text>
<line x1="463" y1="422.9" x2="485" y2="422.9" stroke="#0000ff" stroke-width="0.8"/>
<circle cx="474.1" cy="422.9" r="5.4" fill="url(#gB)"/>
<text x="489.4" y="426.6" font-size="10.2" textLength="57.96" lengthAdjust="spacingAndGlyphs" fill="#000" stroke-width="0.6">TDNA/MoS</text>
<text x="547.36" y="429.4" font-size="6" textLength="4.34" lengthAdjust="spacingAndGlyphs" fill="#000" stroke-width="0.36">2</text>
<text x="551.7" y="426.6" font-size="10.2" textLength="34.3" lengthAdjust="spacingAndGlyphs" fill="#000" stroke-width="0.6">/SPGE</text>
</svg>
</body></html>
